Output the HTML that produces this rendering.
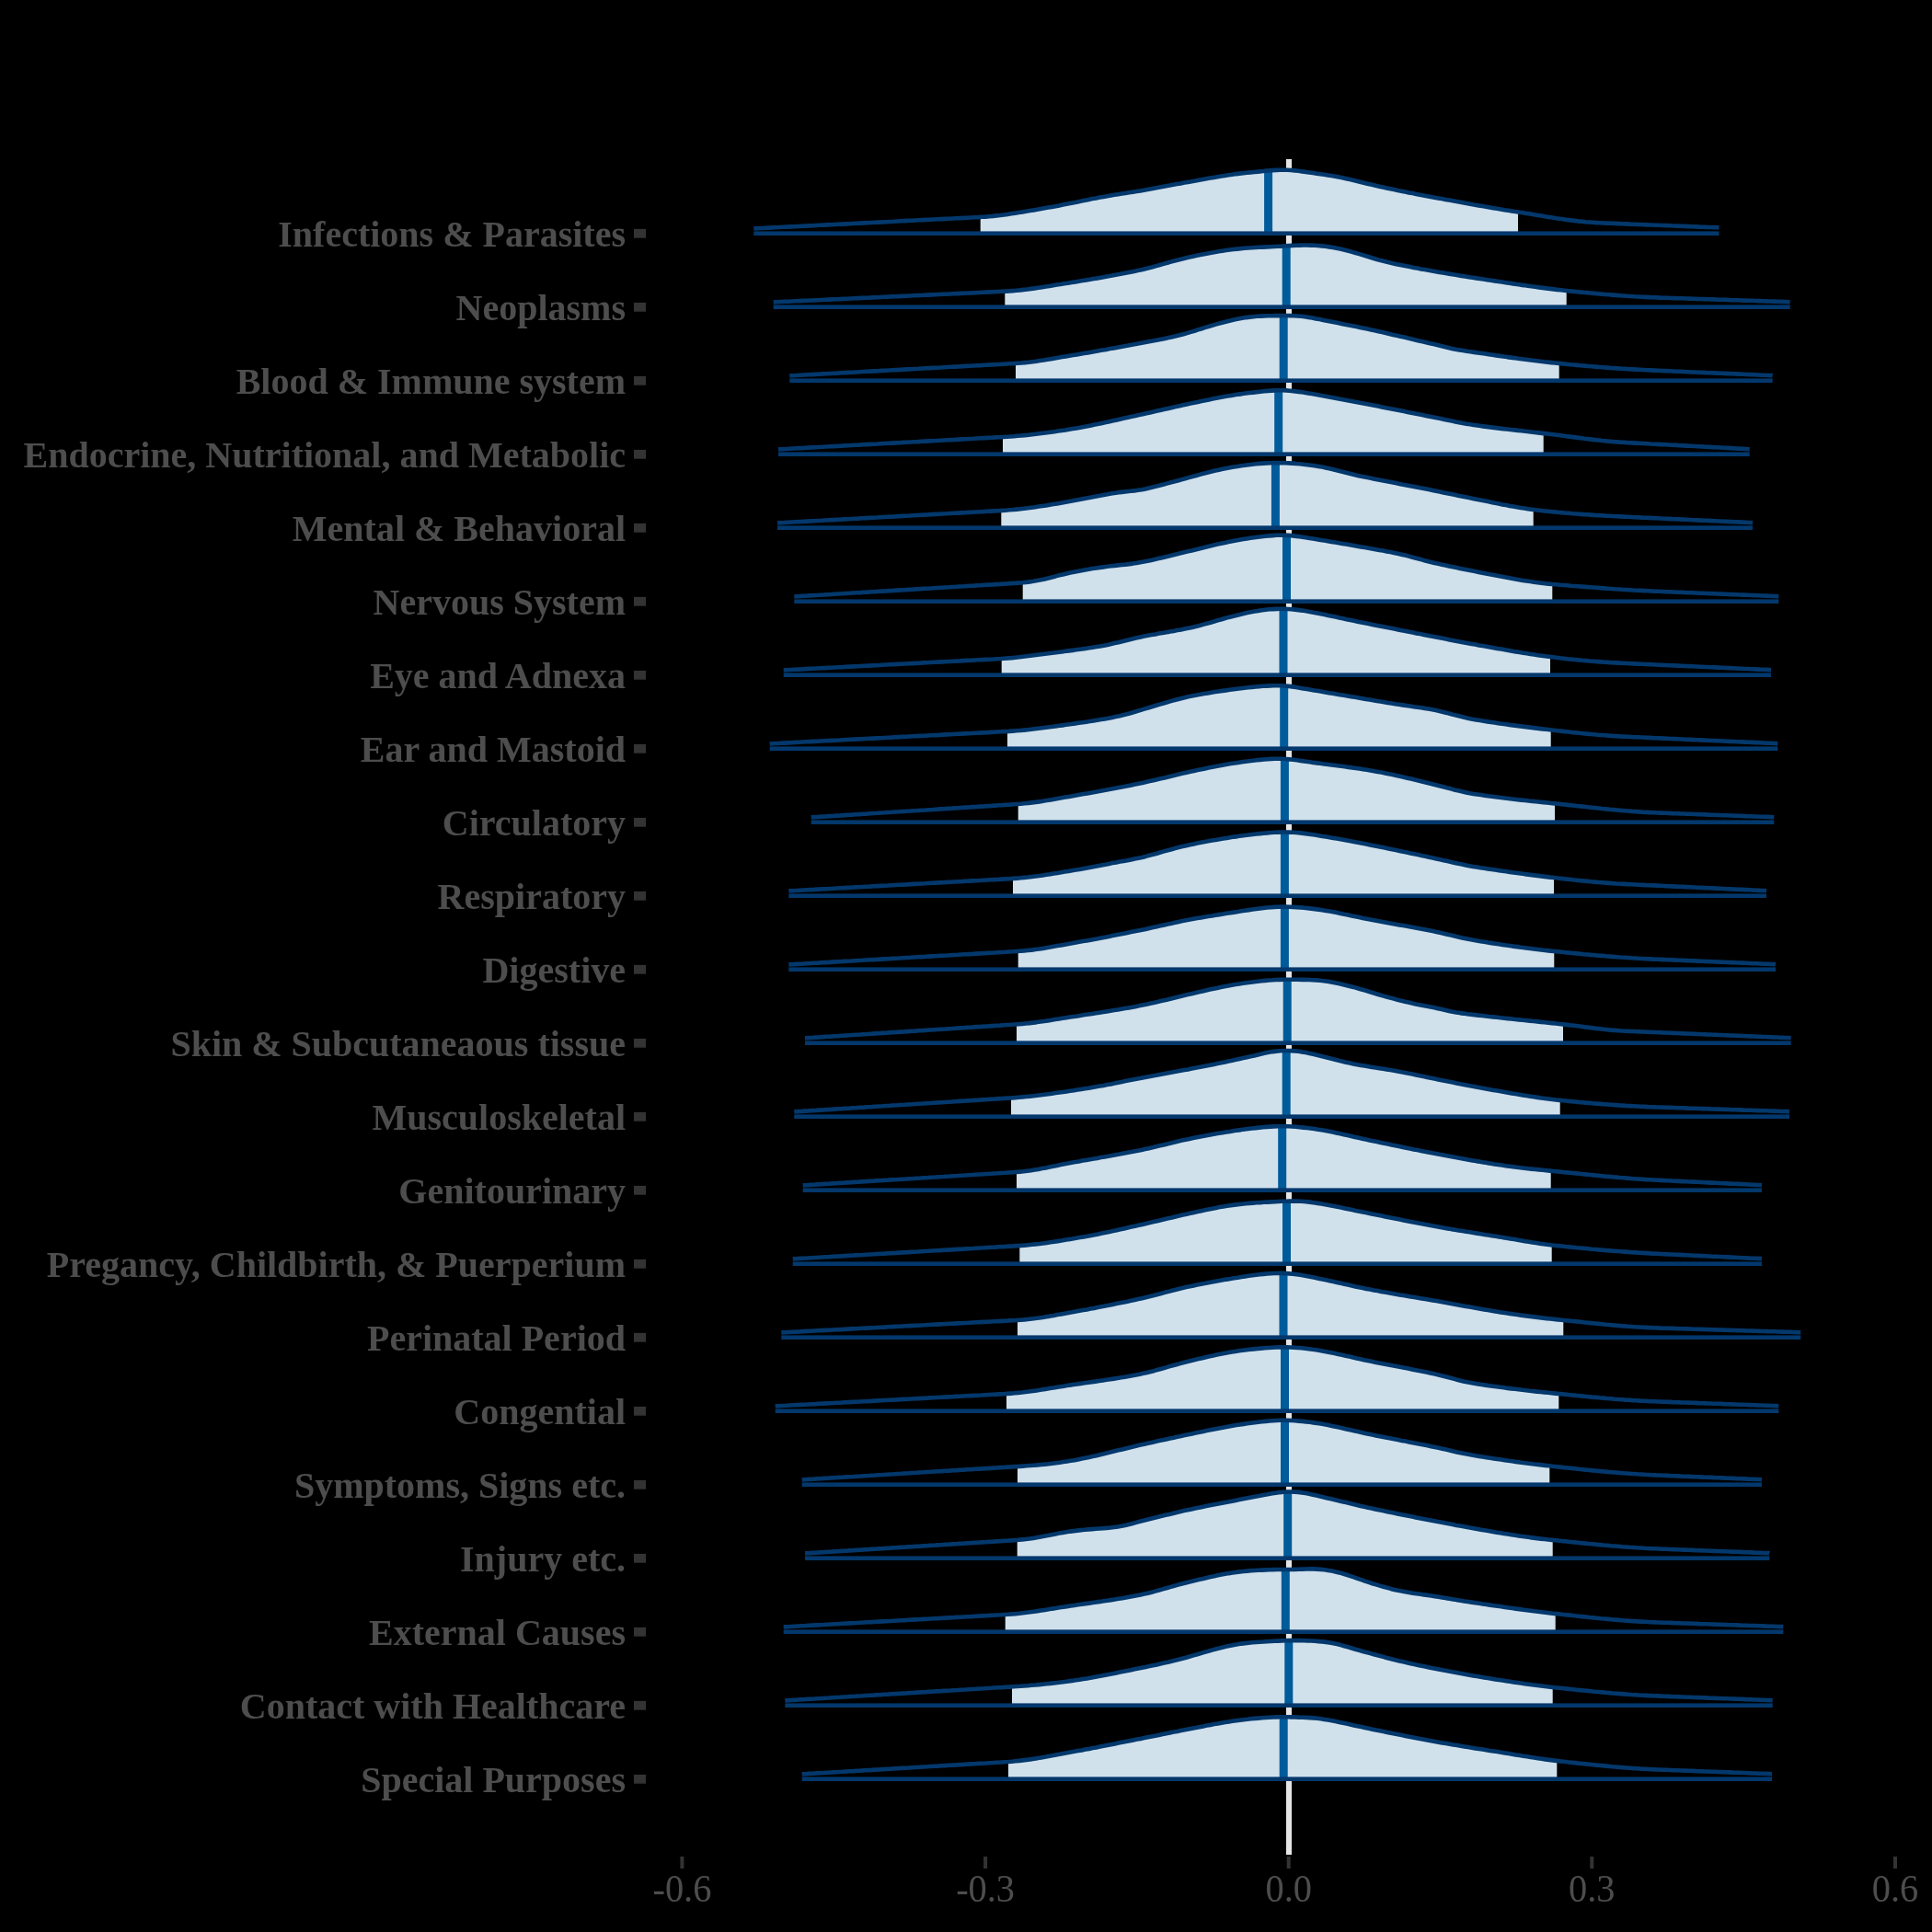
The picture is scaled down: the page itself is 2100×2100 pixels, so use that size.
<!DOCTYPE html>
<html><head><meta charset="utf-8"><style>
svg{will-change:transform}
html,body{margin:0;padding:0;background:#000;width:2100px;height:2100px;overflow:hidden;font-family:"Liberation Serif",serif}
</style></head><body>
<svg width="2100" height="2100" viewBox="0 0 2100 2100" style="position:absolute;left:0;top:0">
<rect x="1398" y="173" width="6" height="1843" fill="#e5e5e5"/>
<defs><path id="f0" d="M819.3,248.4l4,-.2l4,-.2l4,-.2l4,-.2l4,-.2l4,-.2l4,-.2l4,-.2l4,-.2l4,-.2l4,-.2l4,-.2l4,-.2l4,-.2l4,-.2l4,-.2l4,-.2l4,-.2l4,-.2l4,-.2l4,-.2l4,-.2l4,-.2l4,-.2l4,-.2l4,-.2l4,-.2l4,-.2l4,-.2l4,-.2l4,-.2l4,-.2l4,-.2l4,-.2l4,-.2l4,-.2l4,-.2l4,-.2l4,-.3l4,-.2l4,-.2l4,-.2l4,-.2l4,-.2l4,-.2l4,-.2l4,-.2l4,-.2l4,-.2l4,-.2l4,-.2l4,-.2l4,-.2l4,-.2l4,-.2l4,-.2l4,-.2l4,-.2l4,-.2l4,-.2l4,-.2l4,-.3l4,-.2l4,-.4l4,-.3l4,-.5l4,-.4l4,-.5l4,-.6l4,-.6l4,-.6l4,-.6l4,-.7l4,-.7l4,-.6l4,-.7l4,-.7l4,-.7l4,-.7l4,-.7l4,-.7l4,-.7l4,-.8l4,-.8l4,-.8l4,-.8l4,-.8l4,-.8l4,-.8l4,-.9l4,-.8l4,-.8l4,-.7l4,-.8l4,-.7l4,-.7l4,-.7l4,-.7l4,-.6l4,-.6l4,-.6l4,-.7l4,-.6l4,-.6l4,-.7l4,-.7l4,-.7l4,-.7l4,-.8l4,-.7l4,-.7l4,-.8l4,-.7l4,-.8l4,-.7l4,-.7l4,-.8l4,-.7l4,-.7l4,-.7l4,-.8l4,-.7l4,-.7l4,-.7l4,-.7l4,-.7l4,-.7l4,-.6l4,-.6l4,-.6l4,-.6l4,-.5l4,-.4l4,-.4l4,-.4l4,-.4l4,-.4l4,-.4l4,-.4l4,-.4l4,-.3l4,-.2l4,-.2l4,0l4,.1l4,.2l4,.4l4,.4l4,.6l4,.5l4,.6l4,.6l4,.6l4,.5l4,.6l4,.6l4,.6l4,.7l4,.8l4,.8l4,.9l4,.9l4,.9l4,.9l4,1l4,1l4,1l4,.9l4,1l4,.9l4,.9l4,.9l4,.8l4,.8l4,.9l4,.8l4,.8l4,.8l4,.7l4,.8l4,.8l4,.7l4,.8l4,.7l4,.8l4,.7l4,.7l4,.8l4,.7l4,.7l4,.8l4,.7l4,.7l4,.7l4,.8l4,.7l4,.7l4,.7l4,.7l4,.7l4,.7l4,.6l4,.7l4,.7l4,.6l4,.6l4,.7l4,.6l4,.6l4,.7l4,.6l4,.7l4,.6l4,.7l4,.7l4,.6l4,.6l4,.7l4,.6l4,.5l4,.6l4,.5l4,.5l4,.5l4,.4l4,.4l4,.3l4,.3l4,.3l4,.2l4,.2l4,.1l4,.2l4,.1l4,.2l4,.2l4,.1l4,.2l4,.1l4,.2l4,.1l4,.2l4,.2l4,.1l4,.2l4,.1l4,.2l4,.1l4,.2l4,.2l4,.1l4,.2l4,.1l4,.2l4,.2l4,.1l4,.2l4,.1l4,.2l4,.1l4,.2l4,.1l1.2,.1 L1868.5,253.7 L819.3,253.7 Z"/><clipPath id="c0"><rect x="1065.7" y="53.7" width="584.3" height="200"/></clipPath><clipPath id="m0"><use href="#f0"/></clipPath></defs>
<use href="#f0" fill="#d1e1ec" clip-path="url(#c0)"/>
<rect x="1374.1" y="53.7" width="9" height="200" fill="#005b9a" clip-path="url(#m0)"/>
<path d="M819.3,248.4l4,-.2l4,-.2l4,-.2l4,-.2l4,-.2l4,-.2l4,-.2l4,-.2l4,-.2l4,-.2l4,-.2l4,-.2l4,-.2l4,-.2l4,-.2l4,-.2l4,-.2l4,-.2l4,-.2l4,-.2l4,-.2l4,-.2l4,-.2l4,-.2l4,-.2l4,-.2l4,-.2l4,-.2l4,-.2l4,-.2l4,-.2l4,-.2l4,-.2l4,-.2l4,-.2l4,-.2l4,-.2l4,-.2l4,-.3l4,-.2l4,-.2l4,-.2l4,-.2l4,-.2l4,-.2l4,-.2l4,-.2l4,-.2l4,-.2l4,-.2l4,-.2l4,-.2l4,-.2l4,-.2l4,-.2l4,-.2l4,-.2l4,-.2l4,-.2l4,-.2l4,-.2l4,-.3l4,-.2l4,-.4l4,-.3l4,-.5l4,-.4l4,-.5l4,-.6l4,-.6l4,-.6l4,-.6l4,-.7l4,-.7l4,-.6l4,-.7l4,-.7l4,-.7l4,-.7l4,-.7l4,-.7l4,-.7l4,-.8l4,-.8l4,-.8l4,-.8l4,-.8l4,-.8l4,-.8l4,-.9l4,-.8l4,-.8l4,-.7l4,-.8l4,-.7l4,-.7l4,-.7l4,-.7l4,-.6l4,-.6l4,-.6l4,-.7l4,-.6l4,-.6l4,-.7l4,-.7l4,-.7l4,-.7l4,-.8l4,-.7l4,-.7l4,-.8l4,-.7l4,-.8l4,-.7l4,-.7l4,-.8l4,-.7l4,-.7l4,-.7l4,-.8l4,-.7l4,-.7l4,-.7l4,-.7l4,-.7l4,-.7l4,-.6l4,-.6l4,-.6l4,-.6l4,-.5l4,-.4l4,-.4l4,-.4l4,-.4l4,-.4l4,-.4l4,-.4l4,-.4l4,-.3l4,-.2l4,-.2l4,0l4,.1l4,.2l4,.4l4,.4l4,.6l4,.5l4,.6l4,.6l4,.6l4,.5l4,.6l4,.6l4,.6l4,.7l4,.8l4,.8l4,.9l4,.9l4,.9l4,.9l4,1l4,1l4,1l4,.9l4,1l4,.9l4,.9l4,.9l4,.8l4,.8l4,.9l4,.8l4,.8l4,.8l4,.7l4,.8l4,.8l4,.7l4,.8l4,.7l4,.8l4,.7l4,.7l4,.8l4,.7l4,.7l4,.8l4,.7l4,.7l4,.7l4,.8l4,.7l4,.7l4,.7l4,.7l4,.7l4,.7l4,.6l4,.7l4,.7l4,.6l4,.6l4,.7l4,.6l4,.6l4,.7l4,.6l4,.7l4,.6l4,.7l4,.7l4,.6l4,.6l4,.7l4,.6l4,.5l4,.6l4,.5l4,.5l4,.5l4,.4l4,.4l4,.3l4,.3l4,.3l4,.2l4,.2l4,.1l4,.2l4,.1l4,.2l4,.2l4,.1l4,.2l4,.1l4,.2l4,.1l4,.2l4,.2l4,.1l4,.2l4,.1l4,.2l4,.1l4,.2l4,.2l4,.1l4,.2l4,.1l4,.2l4,.2l4,.1l4,.2l4,.1l4,.2l4,.1l4,.2l4,.1l1.2,.1" fill="none" stroke="#03386c" stroke-width="4.6" stroke-linejoin="round" stroke-linecap="butt"/>
<rect x="819.3" y="251.4" width="1049.2" height="4.6" fill="#03386c"/>
<rect x="689" y="248.9" width="13" height="9.8" fill="#333333"/>
<text x="680" y="267.5" text-anchor="end" font-family="Liberation Serif" font-weight="bold" font-size="40" fill="#4d4d4d">Infections &amp; Parasites</text>
<defs><path id="f1" d="M840.7,328.4l4,-.2l4,-.2l4,-.2l4,-.1l4,-.2l4,-.2l4,-.2l4,-.2l4,-.2l4,-.2l4,-.1l4,-.2l4,-.2l4,-.2l4,-.2l4,-.2l4,-.2l4,-.1l4,-.2l4,-.2l4,-.2l4,-.2l4,-.2l4,-.2l4,-.2l4,-.1l4,-.2l4,-.2l4,-.2l4,-.2l4,-.2l4,-.2l4,-.1l4,-.2l4,-.2l4,-.2l4,-.2l4,-.2l4,-.2l4,-.1l4,-.2l4,-.2l4,-.2l4,-.2l4,-.2l4,-.2l4,-.1l4,-.2l4,-.2l4,-.2l4,-.2l4,-.2l4,-.2l4,-.1l4,-.2l4,-.2l4,-.2l4,-.2l4,-.2l4,-.2l4,-.2l4,-.2l4,-.2l4,-.2l4,-.3l4,-.3l4,-.4l4,-.5l4,-.4l4,-.6l4,-.5l4,-.6l4,-.6l4,-.6l4,-.6l4,-.7l4,-.7l4,-.6l4,-.7l4,-.6l4,-.7l4,-.6l4,-.7l4,-.6l4,-.7l4,-.6l4,-.7l4,-.7l4,-.7l4,-.7l4,-.7l4,-.7l4,-.8l4,-.7l4,-.8l4,-.8l4,-.8l4,-.8l4,-.8l4,-.9l4,-1l4,-1l4,-1l4,-1.1l4,-1.1l4,-1.1l4,-1.1l4,-1.2l4,-1.1l4,-1l4,-1l4,-1l4,-.9l4,-.9l4,-.9l4,-.8l4,-.8l4,-.8l4,-.7l4,-.7l4,-.7l4,-.6l4,-.6l4,-.6l4,-.5l4,-.4l4,-.4l4,-.4l4,-.3l4,-.2l4,-.3l4,-.2l4,-.2l4,-.2l4,-.2l4,-.2l4,-.2l4,-.2l4,-.3l4,-.2l4,-.2l4,-.2l4,-.1l4,-.1l4,0l4,.1l4,.2l4,.2l4,.4l4,.4l4,.6l4,.6l4,.8l4,.8l4,1l4,1l4,1l4,1.1l4,1.2l4,1.2l4,1.2l4,1.2l4,1.3l4,1.2l4,1.1l4,1l4,1l4,.9l4,.9l4,.8l4,.8l4,.8l4,.8l4,.8l4,.7l4,.8l4,.7l4,.7l4,.7l4,.7l4,.7l4,.7l4,.7l4,.6l4,.7l4,.6l4,.7l4,.6l4,.7l4,.6l4,.6l4,.6l4,.6l4,.6l4,.6l4,.6l4,.6l4,.6l4,.6l4,.6l4,.6l4,.6l4,.6l4,.5l4,.6l4,.6l4,.5l4,.6l4,.5l4,.5l4,.5l4,.5l4,.5l4,.4l4,.5l4,.4l4,.4l4,.4l4,.4l4,.4l4,.3l4,.4l4,.4l4,.4l4,.3l4,.4l4,.3l4,.3l4,.3l4,.3l4,.3l4,.3l4,.2l4,.3l4,.2l4,.2l4,.2l4,.2l4,.2l4,.1l4,.2l4,.1l4,.1l4,.2l4,.1l4,.1l4,.1l4,.2l4,.1l4,.1l4,.2l4,.1l4,.1l4,.2l4,.1l4,.1l4,.2l4,.1l4,.1l4,.2l4,.1l4,.1l4,.2l4,.1l4,.1l4,.1l4,.2l4,.1l4,.1l4,.2l4,.1l4,.1l4,.2l4,.1l4,.1l4,.2l1,0 L1945.7,333.7 L840.7,333.7 Z"/><clipPath id="c1"><rect x="1092.3" y="133.7" width="610.4" height="200"/></clipPath><clipPath id="m1"><use href="#f1"/></clipPath></defs>
<use href="#f1" fill="#d1e1ec" clip-path="url(#c1)"/>
<rect x="1393.7" y="133.7" width="9" height="200" fill="#005b9a" clip-path="url(#m1)"/>
<path d="M840.7,328.4l4,-.2l4,-.2l4,-.2l4,-.1l4,-.2l4,-.2l4,-.2l4,-.2l4,-.2l4,-.2l4,-.1l4,-.2l4,-.2l4,-.2l4,-.2l4,-.2l4,-.2l4,-.1l4,-.2l4,-.2l4,-.2l4,-.2l4,-.2l4,-.2l4,-.2l4,-.1l4,-.2l4,-.2l4,-.2l4,-.2l4,-.2l4,-.2l4,-.1l4,-.2l4,-.2l4,-.2l4,-.2l4,-.2l4,-.2l4,-.1l4,-.2l4,-.2l4,-.2l4,-.2l4,-.2l4,-.2l4,-.1l4,-.2l4,-.2l4,-.2l4,-.2l4,-.2l4,-.2l4,-.1l4,-.2l4,-.2l4,-.2l4,-.2l4,-.2l4,-.2l4,-.2l4,-.2l4,-.2l4,-.2l4,-.3l4,-.3l4,-.4l4,-.5l4,-.4l4,-.6l4,-.5l4,-.6l4,-.6l4,-.6l4,-.6l4,-.7l4,-.7l4,-.6l4,-.7l4,-.6l4,-.7l4,-.6l4,-.7l4,-.6l4,-.7l4,-.6l4,-.7l4,-.7l4,-.7l4,-.7l4,-.7l4,-.7l4,-.8l4,-.7l4,-.8l4,-.8l4,-.8l4,-.8l4,-.8l4,-.9l4,-1l4,-1l4,-1l4,-1.1l4,-1.1l4,-1.1l4,-1.1l4,-1.2l4,-1.1l4,-1l4,-1l4,-1l4,-.9l4,-.9l4,-.9l4,-.8l4,-.8l4,-.8l4,-.7l4,-.7l4,-.7l4,-.6l4,-.6l4,-.6l4,-.5l4,-.4l4,-.4l4,-.4l4,-.3l4,-.2l4,-.3l4,-.2l4,-.2l4,-.2l4,-.2l4,-.2l4,-.2l4,-.2l4,-.3l4,-.2l4,-.2l4,-.2l4,-.1l4,-.1l4,0l4,.1l4,.2l4,.2l4,.4l4,.4l4,.6l4,.6l4,.8l4,.8l4,1l4,1l4,1l4,1.1l4,1.2l4,1.2l4,1.2l4,1.2l4,1.3l4,1.2l4,1.1l4,1l4,1l4,.9l4,.9l4,.8l4,.8l4,.8l4,.8l4,.8l4,.7l4,.8l4,.7l4,.7l4,.7l4,.7l4,.7l4,.7l4,.7l4,.6l4,.7l4,.6l4,.7l4,.6l4,.7l4,.6l4,.6l4,.6l4,.6l4,.6l4,.6l4,.6l4,.6l4,.6l4,.6l4,.6l4,.6l4,.6l4,.6l4,.5l4,.6l4,.6l4,.5l4,.6l4,.5l4,.5l4,.5l4,.5l4,.5l4,.4l4,.5l4,.4l4,.4l4,.4l4,.4l4,.4l4,.3l4,.4l4,.4l4,.4l4,.3l4,.4l4,.3l4,.3l4,.3l4,.3l4,.3l4,.3l4,.2l4,.3l4,.2l4,.2l4,.2l4,.2l4,.2l4,.1l4,.2l4,.1l4,.1l4,.2l4,.1l4,.1l4,.1l4,.2l4,.1l4,.1l4,.2l4,.1l4,.1l4,.2l4,.1l4,.1l4,.2l4,.1l4,.1l4,.2l4,.1l4,.1l4,.2l4,.1l4,.1l4,.1l4,.2l4,.1l4,.1l4,.2l4,.1l4,.1l4,.2l4,.1l4,.1l4,.2l1,0" fill="none" stroke="#03386c" stroke-width="4.6" stroke-linejoin="round" stroke-linecap="butt"/>
<rect x="840.7" y="331.4" width="1105.0" height="4.6" fill="#03386c"/>
<rect x="689" y="328.9" width="13" height="9.8" fill="#333333"/>
<text x="680" y="347.5" text-anchor="end" font-family="Liberation Serif" font-weight="bold" font-size="40" fill="#4d4d4d">Neoplasms</text>
<defs><path id="f2" d="M858.3,408.4l4,-.2l4,-.2l4,-.3l4,-.2l4,-.2l4,-.2l4,-.2l4,-.2l4,-.3l4,-.2l4,-.2l4,-.2l4,-.2l4,-.3l4,-.2l4,-.2l4,-.2l4,-.2l4,-.2l4,-.3l4,-.2l4,-.2l4,-.2l4,-.2l4,-.3l4,-.2l4,-.2l4,-.2l4,-.2l4,-.2l4,-.3l4,-.2l4,-.2l4,-.2l4,-.2l4,-.3l4,-.2l4,-.2l4,-.2l4,-.2l4,-.2l4,-.3l4,-.2l4,-.2l4,-.2l4,-.2l4,-.3l4,-.2l4,-.2l4,-.2l4,-.2l4,-.2l4,-.3l4,-.2l4,-.2l4,-.2l4,-.2l4,-.3l4,-.2l4,-.2l4,-.2l4,-.3l4,-.3l4,-.4l4,-.4l4,-.5l4,-.5l4,-.6l4,-.6l4,-.7l4,-.6l4,-.7l4,-.7l4,-.7l4,-.7l4,-.7l4,-.6l4,-.7l4,-.7l4,-.6l4,-.7l4,-.7l4,-.7l4,-.7l4,-.7l4,-.7l4,-.8l4,-.7l4,-.7l4,-.8l4,-.7l4,-.7l4,-.8l4,-.7l4,-.8l4,-.7l4,-.8l4,-.7l4,-.7l4,-.8l4,-.8l4,-.8l4,-.8l4,-.9l4,-.9l4,-1l4,-1.1l4,-1.1l4,-1.2l4,-1.2l4,-1.3l4,-1.2l4,-1.3l4,-1.2l4,-1.2l4,-1.1l4,-1.1l4,-1.1l4,-1l4,-.9l4,-1l4,-.8l4,-.7l4,-.7l4,-.5l4,-.4l4,-.4l4,-.2l4,-.2l4,-.1l4,-.1l4,-.1l4,0l4,-.1l4,0l4,.1l4,.1l4,.3l4,.3l4,.5l4,.6l4,.7l4,.8l4,.7l4,.8l4,.8l4,.8l4,.8l4,.8l4,.8l4,.8l4,.8l4,.7l4,.9l4,.8l4,.8l4,.9l4,.8l4,.9l4,.9l4,.9l4,.9l4,.9l4,1l4,.9l4,.9l4,.9l4,1l4,.9l4,.9l4,1l4,.9l4,.9l4,1l4,.9l4,1l4,1l4,1l4,.9l4,.9l4,.8l4,.7l4,.6l4,.7l4,.6l4,.6l4,.6l4,.5l4,.6l4,.6l4,.6l4,.6l4,.5l4,.6l4,.6l4,.5l4,.5l4,.6l4,.5l4,.5l4,.5l4,.5l4,.5l4,.5l4,.5l4,.4l4,.5l4,.4l4,.4l4,.5l4,.4l4,.4l4,.3l4,.4l4,.4l4,.3l4,.4l4,.3l4,.3l4,.4l4,.3l4,.3l4,.3l4,.2l4,.3l4,.3l4,.2l4,.3l4,.2l4,.2l4,.2l4,.2l4,.2l4,.2l4,.2l4,.2l4,.2l4,.1l4,.2l4,.2l4,.2l4,.1l4,.2l4,.2l4,.2l4,.1l4,.2l4,.2l4,.2l4,.1l4,.2l4,.2l4,.2l4,.1l4,.2l4,.2l4,.1l4,.2l4,.2l4,.2l4,.1l4,.2l4,.2l4,.2l4,.1l4,.2l4,.1l.4,.1 L1926.7,413.7 L858.3,413.7 Z"/><clipPath id="c2"><rect x="1104.0" y="213.7" width="590.7" height="200"/></clipPath><clipPath id="m2"><use href="#f2"/></clipPath></defs>
<use href="#f2" fill="#d1e1ec" clip-path="url(#c2)"/>
<rect x="1390.7" y="213.7" width="9" height="200" fill="#005b9a" clip-path="url(#m2)"/>
<path d="M858.3,408.4l4,-.2l4,-.2l4,-.3l4,-.2l4,-.2l4,-.2l4,-.2l4,-.2l4,-.3l4,-.2l4,-.2l4,-.2l4,-.2l4,-.3l4,-.2l4,-.2l4,-.2l4,-.2l4,-.2l4,-.3l4,-.2l4,-.2l4,-.2l4,-.2l4,-.3l4,-.2l4,-.2l4,-.2l4,-.2l4,-.2l4,-.3l4,-.2l4,-.2l4,-.2l4,-.2l4,-.3l4,-.2l4,-.2l4,-.2l4,-.2l4,-.2l4,-.3l4,-.2l4,-.2l4,-.2l4,-.2l4,-.3l4,-.2l4,-.2l4,-.2l4,-.2l4,-.2l4,-.3l4,-.2l4,-.2l4,-.2l4,-.2l4,-.3l4,-.2l4,-.2l4,-.2l4,-.3l4,-.3l4,-.4l4,-.4l4,-.5l4,-.5l4,-.6l4,-.6l4,-.7l4,-.6l4,-.7l4,-.7l4,-.7l4,-.7l4,-.7l4,-.6l4,-.7l4,-.7l4,-.6l4,-.7l4,-.7l4,-.7l4,-.7l4,-.7l4,-.7l4,-.8l4,-.7l4,-.7l4,-.8l4,-.7l4,-.7l4,-.8l4,-.7l4,-.8l4,-.7l4,-.8l4,-.7l4,-.7l4,-.8l4,-.8l4,-.8l4,-.8l4,-.9l4,-.9l4,-1l4,-1.1l4,-1.1l4,-1.2l4,-1.2l4,-1.3l4,-1.2l4,-1.3l4,-1.2l4,-1.2l4,-1.1l4,-1.1l4,-1.1l4,-1l4,-.9l4,-1l4,-.8l4,-.7l4,-.7l4,-.5l4,-.4l4,-.4l4,-.2l4,-.2l4,-.1l4,-.1l4,-.1l4,0l4,-.1l4,0l4,.1l4,.1l4,.3l4,.3l4,.5l4,.6l4,.7l4,.8l4,.7l4,.8l4,.8l4,.8l4,.8l4,.8l4,.8l4,.8l4,.8l4,.7l4,.9l4,.8l4,.8l4,.9l4,.8l4,.9l4,.9l4,.9l4,.9l4,.9l4,1l4,.9l4,.9l4,.9l4,1l4,.9l4,.9l4,1l4,.9l4,.9l4,1l4,.9l4,1l4,1l4,1l4,.9l4,.9l4,.8l4,.7l4,.6l4,.7l4,.6l4,.6l4,.6l4,.5l4,.6l4,.6l4,.6l4,.6l4,.5l4,.6l4,.6l4,.5l4,.5l4,.6l4,.5l4,.5l4,.5l4,.5l4,.5l4,.5l4,.5l4,.4l4,.5l4,.4l4,.4l4,.5l4,.4l4,.4l4,.3l4,.4l4,.4l4,.3l4,.4l4,.3l4,.3l4,.4l4,.3l4,.3l4,.3l4,.2l4,.3l4,.3l4,.2l4,.3l4,.2l4,.2l4,.2l4,.2l4,.2l4,.2l4,.2l4,.2l4,.2l4,.1l4,.2l4,.2l4,.2l4,.1l4,.2l4,.2l4,.2l4,.1l4,.2l4,.2l4,.2l4,.1l4,.2l4,.2l4,.2l4,.1l4,.2l4,.2l4,.1l4,.2l4,.2l4,.2l4,.1l4,.2l4,.2l4,.2l4,.1l4,.2l4,.1l.4,.1" fill="none" stroke="#03386c" stroke-width="4.6" stroke-linejoin="round" stroke-linecap="butt"/>
<rect x="858.3" y="411.4" width="1068.4" height="4.6" fill="#03386c"/>
<rect x="689" y="408.9" width="13" height="9.8" fill="#333333"/>
<text x="680" y="427.5" text-anchor="end" font-family="Liberation Serif" font-weight="bold" font-size="40" fill="#4d4d4d">Blood &amp; Immune system</text>
<defs><path id="f3" d="M846.0,488.4l4,-.2l4,-.2l4,-.3l4,-.2l4,-.2l4,-.2l4,-.2l4,-.3l4,-.2l4,-.2l4,-.2l4,-.2l4,-.3l4,-.2l4,-.2l4,-.2l4,-.2l4,-.3l4,-.2l4,-.2l4,-.2l4,-.2l4,-.3l4,-.2l4,-.2l4,-.2l4,-.2l4,-.3l4,-.2l4,-.2l4,-.2l4,-.2l4,-.2l4,-.3l4,-.2l4,-.2l4,-.2l4,-.2l4,-.3l4,-.2l4,-.2l4,-.2l4,-.2l4,-.3l4,-.2l4,-.2l4,-.2l4,-.2l4,-.3l4,-.2l4,-.2l4,-.2l4,-.2l4,-.3l4,-.2l4,-.2l4,-.2l4,-.2l4,-.3l4,-.2l4,-.2l4,-.3l4,-.2l4,-.3l4,-.4l4,-.3l4,-.4l4,-.4l4,-.5l4,-.4l4,-.5l4,-.5l4,-.5l4,-.6l4,-.5l4,-.6l4,-.6l4,-.6l4,-.7l4,-.6l4,-.7l4,-.7l4,-.7l4,-.8l4,-.8l4,-.8l4,-.8l4,-.9l4,-.8l4,-.9l4,-.9l4,-.9l4,-.9l4,-.9l4,-.9l4,-.9l4,-.9l4,-.9l4,-.8l4,-.9l4,-.9l4,-.9l4,-.9l4,-.9l4,-.9l4,-.9l4,-.9l4,-.9l4,-.9l4,-.9l4,-.9l4,-.8l4,-.9l4,-.8l4,-.9l4,-.8l4,-.8l4,-.8l4,-.8l4,-.8l4,-.7l4,-.7l4,-.7l4,-.7l4,-.6l4,-.5l4,-.6l4,-.5l4,-.4l4,-.5l4,-.4l4,-.4l4,-.4l4,-.3l4,-.2l4,-.2l4,0l4,.2l4,.3l4,.4l4,.5l4,.5l4,.6l4,.7l4,.7l4,.7l4,.7l4,.7l4,.7l4,.8l4,.7l4,.8l4,.8l4,.7l4,.8l4,.7l4,.8l4,.8l4,.7l4,.8l4,.8l4,.7l4,.8l4,.8l4,.8l4,.7l4,.8l4,.8l4,.8l4,.8l4,.8l4,.8l4,.8l4,.8l4,.8l4,.8l4,.8l4,.8l4,.8l4,.8l4,.9l4,.8l4,.8l4,.8l4,.8l4,.8l4,.7l4,.6l4,.6l4,.6l4,.6l4,.5l4,.5l4,.5l4,.5l4,.5l4,.5l4,.4l4,.5l4,.4l4,.5l4,.4l4,.5l4,.4l4,.5l4,.4l4,.5l4,.5l4,.4l4,.5l4,.5l4,.5l4,.5l4,.6l4,.5l4,.5l4,.5l4,.5l4,.6l4,.4l4,.5l4,.5l4,.4l4,.5l4,.4l4,.3l4,.4l4,.3l4,.3l4,.2l4,.3l4,.2l4,.2l4,.2l4,.2l4,.2l4,.3l4,.2l4,.2l4,.2l4,.2l4,.2l4,.2l4,.2l4,.3l4,.2l4,.2l4,.2l4,.2l4,.2l4,.2l4,.3l4,.2l4,.2l4,.2l4,.2l4,.2l4,.2l4,.2l4,.3l4,.2l4,.2l4,.2l3.7,.2 L1901.7,493.7 L846.0,493.7 Z"/><clipPath id="c3"><rect x="1090.0" y="293.7" width="587.7" height="200"/></clipPath><clipPath id="m3"><use href="#f3"/></clipPath></defs>
<use href="#f3" fill="#d1e1ec" clip-path="url(#c3)"/>
<rect x="1385.2" y="293.7" width="9" height="200" fill="#005b9a" clip-path="url(#m3)"/>
<path d="M846.0,488.4l4,-.2l4,-.2l4,-.3l4,-.2l4,-.2l4,-.2l4,-.2l4,-.3l4,-.2l4,-.2l4,-.2l4,-.2l4,-.3l4,-.2l4,-.2l4,-.2l4,-.2l4,-.3l4,-.2l4,-.2l4,-.2l4,-.2l4,-.3l4,-.2l4,-.2l4,-.2l4,-.2l4,-.3l4,-.2l4,-.2l4,-.2l4,-.2l4,-.2l4,-.3l4,-.2l4,-.2l4,-.2l4,-.2l4,-.3l4,-.2l4,-.2l4,-.2l4,-.2l4,-.3l4,-.2l4,-.2l4,-.2l4,-.2l4,-.3l4,-.2l4,-.2l4,-.2l4,-.2l4,-.3l4,-.2l4,-.2l4,-.2l4,-.2l4,-.3l4,-.2l4,-.2l4,-.3l4,-.2l4,-.3l4,-.4l4,-.3l4,-.4l4,-.4l4,-.5l4,-.4l4,-.5l4,-.5l4,-.5l4,-.6l4,-.5l4,-.6l4,-.6l4,-.6l4,-.7l4,-.6l4,-.7l4,-.7l4,-.7l4,-.8l4,-.8l4,-.8l4,-.8l4,-.9l4,-.8l4,-.9l4,-.9l4,-.9l4,-.9l4,-.9l4,-.9l4,-.9l4,-.9l4,-.9l4,-.8l4,-.9l4,-.9l4,-.9l4,-.9l4,-.9l4,-.9l4,-.9l4,-.9l4,-.9l4,-.9l4,-.9l4,-.9l4,-.8l4,-.9l4,-.8l4,-.9l4,-.8l4,-.8l4,-.8l4,-.8l4,-.8l4,-.7l4,-.7l4,-.7l4,-.7l4,-.6l4,-.5l4,-.6l4,-.5l4,-.4l4,-.5l4,-.4l4,-.4l4,-.4l4,-.3l4,-.2l4,-.2l4,0l4,.2l4,.3l4,.4l4,.5l4,.5l4,.6l4,.7l4,.7l4,.7l4,.7l4,.7l4,.7l4,.8l4,.7l4,.8l4,.8l4,.7l4,.8l4,.7l4,.8l4,.8l4,.7l4,.8l4,.8l4,.7l4,.8l4,.8l4,.8l4,.7l4,.8l4,.8l4,.8l4,.8l4,.8l4,.8l4,.8l4,.8l4,.8l4,.8l4,.8l4,.8l4,.8l4,.8l4,.9l4,.8l4,.8l4,.8l4,.8l4,.8l4,.7l4,.6l4,.6l4,.6l4,.6l4,.5l4,.5l4,.5l4,.5l4,.5l4,.5l4,.4l4,.5l4,.4l4,.5l4,.4l4,.5l4,.4l4,.5l4,.4l4,.5l4,.5l4,.4l4,.5l4,.5l4,.5l4,.5l4,.6l4,.5l4,.5l4,.5l4,.5l4,.6l4,.4l4,.5l4,.5l4,.4l4,.5l4,.4l4,.3l4,.4l4,.3l4,.3l4,.2l4,.3l4,.2l4,.2l4,.2l4,.2l4,.2l4,.3l4,.2l4,.2l4,.2l4,.2l4,.2l4,.2l4,.2l4,.3l4,.2l4,.2l4,.2l4,.2l4,.2l4,.2l4,.3l4,.2l4,.2l4,.2l4,.2l4,.2l4,.2l4,.2l4,.3l4,.2l4,.2l4,.2l3.7,.2" fill="none" stroke="#03386c" stroke-width="4.6" stroke-linejoin="round" stroke-linecap="butt"/>
<rect x="846.0" y="491.4" width="1055.7" height="4.6" fill="#03386c"/>
<rect x="689" y="488.9" width="13" height="9.8" fill="#333333"/>
<text x="680" y="507.5" text-anchor="end" font-family="Liberation Serif" font-weight="bold" font-size="40" fill="#4d4d4d">Endocrine, Nutritional, and Metabolic</text>
<defs><path id="f4" d="M845.0,568.4l4,-.2l4,-.2l4,-.3l4,-.2l4,-.2l4,-.2l4,-.2l4,-.3l4,-.2l4,-.2l4,-.2l4,-.2l4,-.3l4,-.2l4,-.2l4,-.2l4,-.2l4,-.3l4,-.2l4,-.2l4,-.2l4,-.2l4,-.3l4,-.2l4,-.2l4,-.2l4,-.2l4,-.3l4,-.2l4,-.2l4,-.2l4,-.2l4,-.3l4,-.2l4,-.2l4,-.2l4,-.3l4,-.2l4,-.2l4,-.2l4,-.2l4,-.3l4,-.2l4,-.2l4,-.2l4,-.2l4,-.3l4,-.2l4,-.2l4,-.2l4,-.2l4,-.3l4,-.2l4,-.2l4,-.2l4,-.2l4,-.3l4,-.2l4,-.2l4,-.2l4,-.3l4,-.2l4,-.4l4,-.3l4,-.4l4,-.4l4,-.4l4,-.5l4,-.6l4,-.5l4,-.6l4,-.6l4,-.6l4,-.7l4,-.6l4,-.7l4,-.7l4,-.8l4,-.7l4,-.7l4,-.8l4,-.7l4,-.8l4,-.8l4,-.7l4,-.8l4,-.7l4,-.7l4,-.8l4,-.7l4,-.7l4,-.6l4,-.6l4,-.5l4,-.4l4,-.4l4,-.4l4,-.6l4,-.6l4,-.8l4,-.9l4,-.9l4,-1l4,-1.1l4,-1l4,-1.1l4,-1.1l4,-1l4,-1.1l4,-1.1l4,-1.1l4,-1.1l4,-1.1l4,-1.1l4,-1.1l4,-1l4,-1.1l4,-1l4,-.9l4,-.9l4,-.9l4,-.8l4,-.7l4,-.7l4,-.6l4,-.7l4,-.5l4,-.6l4,-.5l4,-.4l4,-.4l4,-.3l4,-.2l4,-.2l4,-.1l4,0l4,0l4,.1l4,.2l4,.2l4,.4l4,.3l4,.4l4,.5l4,.5l4,.6l4,.6l4,.7l4,.8l4,.9l4,.9l4,1l4,1.1l4,1l4,1l4,1l4,1l4,.9l4,.8l4,.8l4,.8l4,.8l4,.8l4,.8l4,.8l4,.8l4,.7l4,.8l4,.8l4,.8l4,.7l4,.8l4,.8l4,.8l4,.8l4,.7l4,.8l4,.8l4,.8l4,.8l4,.9l4,.8l4,.8l4,.8l4,.9l4,.8l4,.8l4,.8l4,.8l4,.8l4,.8l4,.8l4,.8l4,.8l4,.9l4,.8l4,.8l4,.7l4,.8l4,.7l4,.7l4,.7l4,.6l4,.6l4,.5l4,.5l4,.5l4,.5l4,.4l4,.4l4,.4l4,.4l4,.3l4,.4l4,.3l4,.4l4,.3l4,.3l4,.3l4,.2l4,.3l4,.3l4,.2l4,.2l4,.3l4,.2l4,.2l4,.2l4,.2l4,.2l4,.2l4,.2l4,.2l4,.2l4,.2l4,.1l4,.2l4,.2l4,.2l4,.2l4,.2l4,.2l4,.2l4,.2l4,.1l4,.2l4,.2l4,.2l4,.2l4,.2l4,.2l4,.2l4,.1l4,.2l4,.2l4,.2l4,.2l4,.2l4,.2l4,.2l4,.1l4,.2l4,.2l4,.2l4,.2 L1905.0,573.7 L845.0,573.7 Z"/><clipPath id="c4"><rect x="1088.3" y="373.7" width="578.4" height="200"/></clipPath><clipPath id="m4"><use href="#f4"/></clipPath></defs>
<use href="#f4" fill="#d1e1ec" clip-path="url(#c4)"/>
<rect x="1381.9" y="373.7" width="9" height="200" fill="#005b9a" clip-path="url(#m4)"/>
<path d="M845.0,568.4l4,-.2l4,-.2l4,-.3l4,-.2l4,-.2l4,-.2l4,-.2l4,-.3l4,-.2l4,-.2l4,-.2l4,-.2l4,-.3l4,-.2l4,-.2l4,-.2l4,-.2l4,-.3l4,-.2l4,-.2l4,-.2l4,-.2l4,-.3l4,-.2l4,-.2l4,-.2l4,-.2l4,-.3l4,-.2l4,-.2l4,-.2l4,-.2l4,-.3l4,-.2l4,-.2l4,-.2l4,-.3l4,-.2l4,-.2l4,-.2l4,-.2l4,-.3l4,-.2l4,-.2l4,-.2l4,-.2l4,-.3l4,-.2l4,-.2l4,-.2l4,-.2l4,-.3l4,-.2l4,-.2l4,-.2l4,-.2l4,-.3l4,-.2l4,-.2l4,-.2l4,-.3l4,-.2l4,-.4l4,-.3l4,-.4l4,-.4l4,-.4l4,-.5l4,-.6l4,-.5l4,-.6l4,-.6l4,-.6l4,-.7l4,-.6l4,-.7l4,-.7l4,-.8l4,-.7l4,-.7l4,-.8l4,-.7l4,-.8l4,-.8l4,-.7l4,-.8l4,-.7l4,-.7l4,-.8l4,-.7l4,-.7l4,-.6l4,-.6l4,-.5l4,-.4l4,-.4l4,-.4l4,-.6l4,-.6l4,-.8l4,-.9l4,-.9l4,-1l4,-1.1l4,-1l4,-1.1l4,-1.1l4,-1l4,-1.1l4,-1.1l4,-1.1l4,-1.1l4,-1.1l4,-1.1l4,-1.1l4,-1l4,-1.1l4,-1l4,-.9l4,-.9l4,-.9l4,-.8l4,-.7l4,-.7l4,-.6l4,-.7l4,-.5l4,-.6l4,-.5l4,-.4l4,-.4l4,-.3l4,-.2l4,-.2l4,-.1l4,0l4,0l4,.1l4,.2l4,.2l4,.4l4,.3l4,.4l4,.5l4,.5l4,.6l4,.6l4,.7l4,.8l4,.9l4,.9l4,1l4,1.1l4,1l4,1l4,1l4,1l4,.9l4,.8l4,.8l4,.8l4,.8l4,.8l4,.8l4,.8l4,.8l4,.7l4,.8l4,.8l4,.8l4,.7l4,.8l4,.8l4,.8l4,.8l4,.7l4,.8l4,.8l4,.8l4,.8l4,.9l4,.8l4,.8l4,.8l4,.9l4,.8l4,.8l4,.8l4,.8l4,.8l4,.8l4,.8l4,.8l4,.8l4,.9l4,.8l4,.8l4,.7l4,.8l4,.7l4,.7l4,.7l4,.6l4,.6l4,.5l4,.5l4,.5l4,.5l4,.4l4,.4l4,.4l4,.4l4,.3l4,.4l4,.3l4,.4l4,.3l4,.3l4,.3l4,.2l4,.3l4,.3l4,.2l4,.2l4,.3l4,.2l4,.2l4,.2l4,.2l4,.2l4,.2l4,.2l4,.2l4,.2l4,.2l4,.1l4,.2l4,.2l4,.2l4,.2l4,.2l4,.2l4,.2l4,.2l4,.1l4,.2l4,.2l4,.2l4,.2l4,.2l4,.2l4,.2l4,.1l4,.2l4,.2l4,.2l4,.2l4,.2l4,.2l4,.2l4,.1l4,.2l4,.2l4,.2l4,.2" fill="none" stroke="#03386c" stroke-width="4.6" stroke-linejoin="round" stroke-linecap="butt"/>
<rect x="845.0" y="571.4" width="1060.0" height="4.6" fill="#03386c"/>
<rect x="689" y="568.9" width="13" height="9.8" fill="#333333"/>
<text x="680" y="587.5" text-anchor="end" font-family="Liberation Serif" font-weight="bold" font-size="40" fill="#4d4d4d">Mental &amp; Behavioral</text>
<defs><path id="f5" d="M863.3,648.4l4,-.2l4,-.3l4,-.2l4,-.3l4,-.2l4,-.2l4,-.3l4,-.2l4,-.3l4,-.2l4,-.3l4,-.2l4,-.2l4,-.3l4,-.2l4,-.3l4,-.2l4,-.2l4,-.3l4,-.2l4,-.3l4,-.2l4,-.3l4,-.2l4,-.2l4,-.3l4,-.2l4,-.3l4,-.2l4,-.2l4,-.3l4,-.2l4,-.3l4,-.2l4,-.3l4,-.2l4,-.2l4,-.3l4,-.2l4,-.3l4,-.2l4,-.2l4,-.3l4,-.2l4,-.3l4,-.2l4,-.3l4,-.2l4,-.2l4,-.3l4,-.2l4,-.3l4,-.2l4,-.2l4,-.3l4,-.2l4,-.3l4,-.2l4,-.3l4,-.2l4,-.3l4,-.3l4,-.4l4,-.5l4,-.6l4,-.7l4,-.8l4,-.9l4,-1l4,-1l4,-1l4,-1.1l4,-.9l4,-1l4,-.9l4,-.8l4,-.8l4,-.7l4,-.8l4,-.6l4,-.7l4,-.6l4,-.6l4,-.5l4,-.6l4,-.5l4,-.4l4,-.5l4,-.4l4,-.4l4,-.5l4,-.5l4,-.6l4,-.7l4,-.7l4,-.8l4,-.9l4,-.9l4,-.9l4,-.9l4,-1l4,-1l4,-1l4,-1l4,-.9l4,-1l4,-1l4,-.9l4,-1l4,-1l4,-.9l4,-1l4,-1l4,-.9l4,-1l4,-.9l4,-.8l4,-.9l4,-.8l4,-.8l4,-.7l4,-.7l4,-.6l4,-.6l4,-.5l4,-.5l4,-.5l4,-.5l4,-.4l4,-.3l4,-.3l4,-.1l4,0l4,.2l4,.2l4,.5l4,.5l4,.6l4,.6l4,.7l4,.6l4,.6l4,.7l4,.7l4,.6l4,.7l4,.7l4,.6l4,.7l4,.7l4,.7l4,.7l4,.7l4,.7l4,.7l4,.7l4,.7l4,.7l4,.7l4,.7l4,.8l4,.7l4,.8l4,.9l4,.9l4,.9l4,1l4,1.1l4,1l4,1.1l4,1.1l4,1l4,1l4,1l4,.9l4,.9l4,.8l4,.9l4,.8l4,.8l4,.9l4,.8l4,.8l4,.8l4,.8l4,.8l4,.8l4,.8l4,.8l4,.7l4,.8l4,.7l4,.8l4,.7l4,.8l4,.7l4,.7l4,.7l4,.6l4,.6l4,.6l4,.5l4,.5l4,.5l4,.4l4,.4l4,.3l4,.4l4,.3l4,.3l4,.4l4,.3l4,.3l4,.3l4,.3l4,.3l4,.3l4,.3l4,.3l4,.3l4,.3l4,.3l4,.3l4,.2l4,.3l4,.2l4,.2l4,.3l4,.2l4,.2l4,.2l4,.2l4,.2l4,.2l4,.1l4,.2l4,.2l4,.1l4,.2l4,.2l4,.1l4,.2l4,.2l4,.1l4,.2l4,.2l4,.1l4,.2l4,.1l4,.2l4,.2l4,.1l4,.2l4,.2l4,.1l4,.2l4,.2l4,.1l4,.2l4,.2l4,.1l4,.2l4,.2l4,.1l4,.2l4,.2l4,.1l2,.1 L1933.3,653.7 L863.3,653.7 Z"/><clipPath id="c5"><rect x="1111.7" y="453.7" width="575.6" height="200"/></clipPath><clipPath id="m5"><use href="#f5"/></clipPath></defs>
<use href="#f5" fill="#d1e1ec" clip-path="url(#c5)"/>
<rect x="1394.0" y="453.7" width="9" height="200" fill="#005b9a" clip-path="url(#m5)"/>
<path d="M863.3,648.4l4,-.2l4,-.3l4,-.2l4,-.3l4,-.2l4,-.2l4,-.3l4,-.2l4,-.3l4,-.2l4,-.3l4,-.2l4,-.2l4,-.3l4,-.2l4,-.3l4,-.2l4,-.2l4,-.3l4,-.2l4,-.3l4,-.2l4,-.3l4,-.2l4,-.2l4,-.3l4,-.2l4,-.3l4,-.2l4,-.2l4,-.3l4,-.2l4,-.3l4,-.2l4,-.3l4,-.2l4,-.2l4,-.3l4,-.2l4,-.3l4,-.2l4,-.2l4,-.3l4,-.2l4,-.3l4,-.2l4,-.3l4,-.2l4,-.2l4,-.3l4,-.2l4,-.3l4,-.2l4,-.2l4,-.3l4,-.2l4,-.3l4,-.2l4,-.3l4,-.2l4,-.3l4,-.3l4,-.4l4,-.5l4,-.6l4,-.7l4,-.8l4,-.9l4,-1l4,-1l4,-1l4,-1.1l4,-.9l4,-1l4,-.9l4,-.8l4,-.8l4,-.7l4,-.8l4,-.6l4,-.7l4,-.6l4,-.6l4,-.5l4,-.6l4,-.5l4,-.4l4,-.5l4,-.4l4,-.4l4,-.5l4,-.5l4,-.6l4,-.7l4,-.7l4,-.8l4,-.9l4,-.9l4,-.9l4,-.9l4,-1l4,-1l4,-1l4,-1l4,-.9l4,-1l4,-1l4,-.9l4,-1l4,-1l4,-.9l4,-1l4,-1l4,-.9l4,-1l4,-.9l4,-.8l4,-.9l4,-.8l4,-.8l4,-.7l4,-.7l4,-.6l4,-.6l4,-.5l4,-.5l4,-.5l4,-.5l4,-.4l4,-.3l4,-.3l4,-.1l4,0l4,.2l4,.2l4,.5l4,.5l4,.6l4,.6l4,.7l4,.6l4,.6l4,.7l4,.7l4,.6l4,.7l4,.7l4,.6l4,.7l4,.7l4,.7l4,.7l4,.7l4,.7l4,.7l4,.7l4,.7l4,.7l4,.7l4,.7l4,.8l4,.7l4,.8l4,.9l4,.9l4,.9l4,1l4,1.1l4,1l4,1.1l4,1.1l4,1l4,1l4,1l4,.9l4,.9l4,.8l4,.9l4,.8l4,.8l4,.9l4,.8l4,.8l4,.8l4,.8l4,.8l4,.8l4,.8l4,.8l4,.7l4,.8l4,.7l4,.8l4,.7l4,.8l4,.7l4,.7l4,.7l4,.6l4,.6l4,.6l4,.5l4,.5l4,.5l4,.4l4,.4l4,.3l4,.4l4,.3l4,.3l4,.4l4,.3l4,.3l4,.3l4,.3l4,.3l4,.3l4,.3l4,.3l4,.3l4,.3l4,.3l4,.3l4,.2l4,.3l4,.2l4,.2l4,.3l4,.2l4,.2l4,.2l4,.2l4,.2l4,.2l4,.1l4,.2l4,.2l4,.1l4,.2l4,.2l4,.1l4,.2l4,.2l4,.1l4,.2l4,.2l4,.1l4,.2l4,.1l4,.2l4,.2l4,.1l4,.2l4,.2l4,.1l4,.2l4,.2l4,.1l4,.2l4,.2l4,.1l4,.2l4,.2l4,.1l4,.2l4,.2l4,.1l2,.1" fill="none" stroke="#03386c" stroke-width="4.6" stroke-linejoin="round" stroke-linecap="butt"/>
<rect x="863.3" y="651.4" width="1070.0" height="4.6" fill="#03386c"/>
<rect x="689" y="648.9" width="13" height="9.8" fill="#333333"/>
<text x="680" y="667.5" text-anchor="end" font-family="Liberation Serif" font-weight="bold" font-size="40" fill="#4d4d4d">Nervous System</text>
<defs><path id="f6" d="M851.7,728.4l4,-.2l4,-.2l4,-.2l4,-.2l4,-.2l4,-.3l4,-.2l4,-.2l4,-.2l4,-.2l4,-.2l4,-.2l4,-.2l4,-.2l4,-.2l4,-.2l4,-.3l4,-.2l4,-.2l4,-.2l4,-.2l4,-.2l4,-.2l4,-.2l4,-.2l4,-.2l4,-.3l4,-.2l4,-.2l4,-.2l4,-.2l4,-.2l4,-.2l4,-.2l4,-.2l4,-.2l4,-.2l4,-.3l4,-.2l4,-.2l4,-.2l4,-.2l4,-.2l4,-.2l4,-.2l4,-.2l4,-.2l4,-.2l4,-.3l4,-.2l4,-.2l4,-.2l4,-.2l4,-.2l4,-.2l4,-.2l4,-.2l4,-.3l4,-.2l4,-.3l4,-.3l4,-.3l4,-.4l4,-.4l4,-.5l4,-.5l4,-.5l4,-.5l4,-.6l4,-.5l4,-.5l4,-.5l4,-.5l4,-.5l4,-.5l4,-.5l4,-.6l4,-.5l4,-.5l4,-.6l4,-.5l4,-.6l4,-.6l4,-.6l4,-.6l4,-.7l4,-.7l4,-.8l4,-.9l4,-.9l4,-.9l4,-1l4,-1l4,-1l4,-.9l4,-1l4,-.9l4,-.8l4,-.8l4,-.7l4,-.7l4,-.8l4,-.6l4,-.7l4,-.7l4,-.7l4,-.8l4,-.7l4,-.8l4,-.8l4,-.9l4,-.9l4,-1l4,-1.1l4,-1.1l4,-1.1l4,-1.2l4,-1.2l4,-1.1l4,-1.2l4,-1.1l4,-1l4,-1l4,-1l4,-.9l4,-.9l4,-.8l4,-.7l4,-.7l4,-.6l4,-.5l4,-.5l4,-.2l4,-.2l4,-.1l4,0l4,.2l4,.2l4,.4l4,.5l4,.5l4,.7l4,.6l4,.8l4,.7l4,.8l4,.8l4,.9l4,.8l4,.9l4,.9l4,.8l4,.9l4,.8l4,.8l4,.9l4,.8l4,.8l4,.8l4,.8l4,.8l4,.8l4,.8l4,.8l4,.7l4,.8l4,.8l4,.8l4,.8l4,.8l4,.8l4,.8l4,.7l4,.8l4,.8l4,.8l4,.7l4,.8l4,.8l4,.8l4,.8l4,.8l4,.8l4,.7l4,.8l4,.7l4,.7l4,.7l4,.8l4,.7l4,.7l4,.7l4,.7l4,.7l4,.7l4,.7l4,.7l4,.7l4,.7l4,.6l4,.7l4,.6l4,.7l4,.6l4,.6l4,.5l4,.6l4,.5l4,.5l4,.5l4,.5l4,.4l4,.5l4,.4l4,.4l4,.4l4,.4l4,.3l4,.4l4,.3l4,.3l4,.3l4,.3l4,.2l4,.3l4,.2l4,.2l4,.2l4,.2l4,.2l4,.2l4,.2l4,.2l4,.2l4,.1l4,.2l4,.2l4,.2l4,.2l4,.1l4,.2l4,.2l4,.2l4,.2l4,.2l4,.1l4,.2l4,.2l4,.2l4,.2l4,.1l4,.2l4,.2l4,.2l4,.2l4,.2l4,.1l4,.2l4,.2l4,.2l4,.2l4,.1l4,.2l4,.2l4,.2l4,.2l4,.1l4,.2l1.3,.1 L1925.0,733.7 L851.7,733.7 Z"/><clipPath id="c6"><rect x="1088.7" y="533.7" width="596.3" height="200"/></clipPath><clipPath id="m6"><use href="#f6"/></clipPath></defs>
<use href="#f6" fill="#d1e1ec" clip-path="url(#c6)"/>
<rect x="1390.5" y="533.7" width="9" height="200" fill="#005b9a" clip-path="url(#m6)"/>
<path d="M851.7,728.4l4,-.2l4,-.2l4,-.2l4,-.2l4,-.2l4,-.3l4,-.2l4,-.2l4,-.2l4,-.2l4,-.2l4,-.2l4,-.2l4,-.2l4,-.2l4,-.2l4,-.3l4,-.2l4,-.2l4,-.2l4,-.2l4,-.2l4,-.2l4,-.2l4,-.2l4,-.2l4,-.3l4,-.2l4,-.2l4,-.2l4,-.2l4,-.2l4,-.2l4,-.2l4,-.2l4,-.2l4,-.2l4,-.3l4,-.2l4,-.2l4,-.2l4,-.2l4,-.2l4,-.2l4,-.2l4,-.2l4,-.2l4,-.2l4,-.3l4,-.2l4,-.2l4,-.2l4,-.2l4,-.2l4,-.2l4,-.2l4,-.2l4,-.3l4,-.2l4,-.3l4,-.3l4,-.3l4,-.4l4,-.4l4,-.5l4,-.5l4,-.5l4,-.5l4,-.6l4,-.5l4,-.5l4,-.5l4,-.5l4,-.5l4,-.5l4,-.5l4,-.6l4,-.5l4,-.5l4,-.6l4,-.5l4,-.6l4,-.6l4,-.6l4,-.6l4,-.7l4,-.7l4,-.8l4,-.9l4,-.9l4,-.9l4,-1l4,-1l4,-1l4,-.9l4,-1l4,-.9l4,-.8l4,-.8l4,-.7l4,-.7l4,-.8l4,-.6l4,-.7l4,-.7l4,-.7l4,-.8l4,-.7l4,-.8l4,-.8l4,-.9l4,-.9l4,-1l4,-1.1l4,-1.1l4,-1.1l4,-1.2l4,-1.2l4,-1.1l4,-1.2l4,-1.1l4,-1l4,-1l4,-1l4,-.9l4,-.9l4,-.8l4,-.7l4,-.7l4,-.6l4,-.5l4,-.5l4,-.2l4,-.2l4,-.1l4,0l4,.2l4,.2l4,.4l4,.5l4,.5l4,.7l4,.6l4,.8l4,.7l4,.8l4,.8l4,.9l4,.8l4,.9l4,.9l4,.8l4,.9l4,.8l4,.8l4,.9l4,.8l4,.8l4,.8l4,.8l4,.8l4,.8l4,.8l4,.8l4,.7l4,.8l4,.8l4,.8l4,.8l4,.8l4,.8l4,.8l4,.7l4,.8l4,.8l4,.8l4,.7l4,.8l4,.8l4,.8l4,.8l4,.8l4,.8l4,.7l4,.8l4,.7l4,.7l4,.7l4,.8l4,.7l4,.7l4,.7l4,.7l4,.7l4,.7l4,.7l4,.7l4,.7l4,.7l4,.6l4,.7l4,.6l4,.7l4,.6l4,.6l4,.5l4,.6l4,.5l4,.5l4,.5l4,.5l4,.4l4,.5l4,.4l4,.4l4,.4l4,.4l4,.3l4,.4l4,.3l4,.3l4,.3l4,.3l4,.2l4,.3l4,.2l4,.2l4,.2l4,.2l4,.2l4,.2l4,.2l4,.2l4,.2l4,.1l4,.2l4,.2l4,.2l4,.2l4,.1l4,.2l4,.2l4,.2l4,.2l4,.2l4,.1l4,.2l4,.2l4,.2l4,.2l4,.1l4,.2l4,.2l4,.2l4,.2l4,.2l4,.1l4,.2l4,.2l4,.2l4,.2l4,.1l4,.2l4,.2l4,.2l4,.2l4,.1l4,.2l1.3,.1" fill="none" stroke="#03386c" stroke-width="4.6" stroke-linejoin="round" stroke-linecap="butt"/>
<rect x="851.7" y="731.4" width="1073.3" height="4.6" fill="#03386c"/>
<rect x="689" y="728.9" width="13" height="9.8" fill="#333333"/>
<text x="680" y="747.5" text-anchor="end" font-family="Liberation Serif" font-weight="bold" font-size="40" fill="#4d4d4d">Eye and Adnexa</text>
<defs><path id="f7" d="M836.7,808.4l4,-.2l4,-.2l4,-.2l4,-.2l4,-.2l4,-.2l4,-.3l4,-.2l4,-.2l4,-.2l4,-.2l4,-.2l4,-.2l4,-.2l4,-.2l4,-.2l4,-.2l4,-.2l4,-.2l4,-.3l4,-.2l4,-.2l4,-.2l4,-.2l4,-.2l4,-.2l4,-.2l4,-.2l4,-.2l4,-.2l4,-.2l4,-.2l4,-.2l4,-.3l4,-.2l4,-.2l4,-.2l4,-.2l4,-.2l4,-.2l4,-.2l4,-.2l4,-.2l4,-.2l4,-.2l4,-.2l4,-.3l4,-.2l4,-.2l4,-.2l4,-.2l4,-.2l4,-.2l4,-.2l4,-.2l4,-.2l4,-.2l4,-.2l4,-.2l4,-.3l4,-.2l4,-.2l4,-.2l4,-.2l4,-.2l4,-.3l4,-.3l4,-.3l4,-.4l4,-.4l4,-.4l4,-.5l4,-.5l4,-.5l4,-.5l4,-.5l4,-.5l4,-.6l4,-.6l4,-.5l4,-.6l4,-.5l4,-.6l4,-.6l4,-.5l4,-.6l4,-.6l4,-.7l4,-.6l4,-.7l4,-.7l4,-.7l4,-.8l4,-.8l4,-.8l4,-1l4,-1l4,-1.1l4,-1.2l4,-1.2l4,-1.2l4,-1.2l4,-1.2l4,-1.2l4,-1.2l4,-1.2l4,-1.1l4,-1.2l4,-1.2l4,-1.1l4,-1l4,-1l4,-1l4,-.9l4,-.8l4,-.8l4,-.7l4,-.7l4,-.7l4,-.7l4,-.6l4,-.6l4,-.6l4,-.5l4,-.6l4,-.6l4,-.5l4,-.5l4,-.5l4,-.4l4,-.4l4,-.4l4,-.4l4,-.3l4,-.2l4,-.2l4,-.1l4,-.1l4,.1l4,.2l4,.4l4,.5l4,.6l4,.7l4,.7l4,.7l4,.7l4,.7l4,.6l4,.7l4,.7l4,.7l4,.6l4,.7l4,.7l4,.6l4,.7l4,.7l4,.6l4,.7l4,.7l4,.7l4,.6l4,.7l4,.7l4,.7l4,.6l4,.7l4,.6l4,.7l4,.6l4,.6l4,.6l4,.6l4,.6l4,.5l4,.6l4,.6l4,.7l4,.7l4,.8l4,.9l4,.9l4,1l4,1.1l4,1.1l4,1l4,1l4,1l4,.8l4,.8l4,.7l4,.7l4,.7l4,.6l4,.6l4,.6l4,.6l4,.6l4,.5l4,.6l4,.5l4,.5l4,.5l4,.5l4,.5l4,.5l4,.5l4,.5l4,.5l4,.4l4,.5l4,.4l4,.5l4,.4l4,.5l4,.4l4,.5l4,.4l4,.4l4,.4l4,.4l4,.4l4,.3l4,.4l4,.3l4,.3l4,.3l4,.3l4,.2l4,.3l4,.2l4,.2l4,.2l4,.2l4,.1l4,.2l4,.2l4,.2l4,.2l4,.1l4,.2l4,.2l4,.2l4,.2l4,.1l4,.2l4,.2l4,.2l4,.2l4,.2l4,.1l4,.2l4,.2l4,.2l4,.2l4,.1l4,.2l4,.2l4,.2l4,.2l4,.1l4,.2l4,.2l4,.2l4,.2l4,.1l4,.2l4,.2l4,.2l4,.2l4,.1l4,.2l3.6,.2 L1932.3,813.7 L836.7,813.7 Z"/><clipPath id="c7"><rect x="1095.0" y="613.7" width="590.7" height="200"/></clipPath><clipPath id="m7"><use href="#f7"/></clipPath></defs>
<use href="#f7" fill="#d1e1ec" clip-path="url(#c7)"/>
<rect x="1391.2" y="613.7" width="9" height="200" fill="#005b9a" clip-path="url(#m7)"/>
<path d="M836.7,808.4l4,-.2l4,-.2l4,-.2l4,-.2l4,-.2l4,-.2l4,-.3l4,-.2l4,-.2l4,-.2l4,-.2l4,-.2l4,-.2l4,-.2l4,-.2l4,-.2l4,-.2l4,-.2l4,-.2l4,-.3l4,-.2l4,-.2l4,-.2l4,-.2l4,-.2l4,-.2l4,-.2l4,-.2l4,-.2l4,-.2l4,-.2l4,-.2l4,-.2l4,-.3l4,-.2l4,-.2l4,-.2l4,-.2l4,-.2l4,-.2l4,-.2l4,-.2l4,-.2l4,-.2l4,-.2l4,-.2l4,-.3l4,-.2l4,-.2l4,-.2l4,-.2l4,-.2l4,-.2l4,-.2l4,-.2l4,-.2l4,-.2l4,-.2l4,-.2l4,-.3l4,-.2l4,-.2l4,-.2l4,-.2l4,-.2l4,-.3l4,-.3l4,-.3l4,-.4l4,-.4l4,-.4l4,-.5l4,-.5l4,-.5l4,-.5l4,-.5l4,-.5l4,-.6l4,-.6l4,-.5l4,-.6l4,-.5l4,-.6l4,-.6l4,-.5l4,-.6l4,-.6l4,-.7l4,-.6l4,-.7l4,-.7l4,-.7l4,-.8l4,-.8l4,-.8l4,-1l4,-1l4,-1.1l4,-1.2l4,-1.2l4,-1.2l4,-1.2l4,-1.2l4,-1.2l4,-1.2l4,-1.2l4,-1.1l4,-1.2l4,-1.2l4,-1.1l4,-1l4,-1l4,-1l4,-.9l4,-.8l4,-.8l4,-.7l4,-.7l4,-.7l4,-.7l4,-.6l4,-.6l4,-.6l4,-.5l4,-.6l4,-.6l4,-.5l4,-.5l4,-.5l4,-.4l4,-.4l4,-.4l4,-.4l4,-.3l4,-.2l4,-.2l4,-.1l4,-.1l4,.1l4,.2l4,.4l4,.5l4,.6l4,.7l4,.7l4,.7l4,.7l4,.7l4,.6l4,.7l4,.7l4,.7l4,.6l4,.7l4,.7l4,.6l4,.7l4,.7l4,.6l4,.7l4,.7l4,.7l4,.6l4,.7l4,.7l4,.7l4,.6l4,.7l4,.6l4,.7l4,.6l4,.6l4,.6l4,.6l4,.6l4,.5l4,.6l4,.6l4,.7l4,.7l4,.8l4,.9l4,.9l4,1l4,1.1l4,1.1l4,1l4,1l4,1l4,.8l4,.8l4,.7l4,.7l4,.7l4,.6l4,.6l4,.6l4,.6l4,.6l4,.5l4,.6l4,.5l4,.5l4,.5l4,.5l4,.5l4,.5l4,.5l4,.5l4,.5l4,.4l4,.5l4,.4l4,.5l4,.4l4,.5l4,.4l4,.5l4,.4l4,.4l4,.4l4,.4l4,.4l4,.3l4,.4l4,.3l4,.3l4,.3l4,.3l4,.2l4,.3l4,.2l4,.2l4,.2l4,.2l4,.1l4,.2l4,.2l4,.2l4,.2l4,.1l4,.2l4,.2l4,.2l4,.2l4,.1l4,.2l4,.2l4,.2l4,.2l4,.2l4,.1l4,.2l4,.2l4,.2l4,.2l4,.1l4,.2l4,.2l4,.2l4,.2l4,.1l4,.2l4,.2l4,.2l4,.2l4,.1l4,.2l4,.2l4,.2l4,.2l4,.1l4,.2l3.6,.2" fill="none" stroke="#03386c" stroke-width="4.6" stroke-linejoin="round" stroke-linecap="butt"/>
<rect x="836.7" y="811.4" width="1095.6" height="4.6" fill="#03386c"/>
<rect x="689" y="808.9" width="13" height="9.8" fill="#333333"/>
<text x="680" y="827.5" text-anchor="end" font-family="Liberation Serif" font-weight="bold" font-size="40" fill="#4d4d4d">Ear and Mastoid</text>
<defs><path id="f8" d="M881.7,888.4l4,-.3l4,-.2l4,-.3l4,-.2l4,-.3l4,-.2l4,-.3l4,-.2l4,-.3l4,-.3l4,-.2l4,-.3l4,-.2l4,-.3l4,-.2l4,-.3l4,-.3l4,-.2l4,-.3l4,-.2l4,-.3l4,-.2l4,-.3l4,-.2l4,-.3l4,-.3l4,-.2l4,-.3l4,-.2l4,-.3l4,-.2l4,-.3l4,-.2l4,-.3l4,-.3l4,-.2l4,-.3l4,-.2l4,-.3l4,-.2l4,-.3l4,-.3l4,-.2l4,-.3l4,-.2l4,-.3l4,-.2l4,-.3l4,-.2l4,-.3l4,-.3l4,-.2l4,-.3l4,-.2l4,-.3l4,-.3l4,-.3l4,-.4l4,-.4l4,-.5l4,-.5l4,-.5l4,-.7l4,-.6l4,-.7l4,-.7l4,-.7l4,-.7l4,-.7l4,-.7l4,-.7l4,-.7l4,-.7l4,-.7l4,-.7l4,-.7l4,-.7l4,-.8l4,-.7l4,-.7l4,-.8l4,-.7l4,-.8l4,-.8l4,-.7l4,-.8l4,-.8l4,-.8l4,-.9l4,-.8l4,-.9l4,-.9l4,-.9l4,-.9l4,-1l4,-.9l4,-1l4,-1l4,-.9l4,-1l4,-.9l4,-.9l4,-.9l4,-.8l4,-.9l4,-.8l4,-.9l4,-.8l4,-.8l4,-.8l4,-.7l4,-.8l4,-.7l4,-.7l4,-.6l4,-.6l4,-.6l4,-.6l4,-.5l4,-.4l4,-.5l4,-.4l4,-.4l4,-.3l4,-.3l4,-.2l4,0l4,.1l4,.2l4,.4l4,.4l4,.5l4,.6l4,.5l4,.6l4,.6l4,.5l4,.5l4,.6l4,.5l4,.5l4,.5l4,.6l4,.5l4,.5l4,.6l4,.5l4,.6l4,.6l4,.6l4,.6l4,.7l4,.7l4,.7l4,.7l4,.8l4,.9l4,.8l4,.9l4,.8l4,1l4,.9l4,.9l4,1l4,.9l4,1l4,1l4,1l4,1l4,1l4,1l4,1l4,1.1l4,1l4,1.1l4,.9l4,1l4,.8l4,.8l4,.7l4,.6l4,.6l4,.6l4,.6l4,.5l4,.5l4,.5l4,.5l4,.5l4,.5l4,.4l4,.5l4,.4l4,.4l4,.5l4,.4l4,.4l4,.4l4,.4l4,.4l4,.5l4,.4l4,.4l4,.4l4,.4l4,.5l4,.4l4,.5l4,.4l4,.4l4,.5l4,.4l4,.4l4,.4l4,.5l4,.4l4,.4l4,.3l4,.4l4,.4l4,.3l4,.3l4,.4l4,.2l4,.3l4,.3l4,.2l4,.2l4,.2l4,.2l4,.1l4,.2l4,.1l4,.2l4,.1l4,.2l4,.1l4,.2l4,.1l4,.2l4,.1l4,.2l4,.1l4,.2l4,.1l4,.2l4,.1l4,.2l4,.1l4,.2l4,.1l4,.2l4,.1l4,.2l4,.1l4,.2l4,.1l4,.2l4,.1l4,.1l4,.2l2.6,.1 L1928.3,893.7 L881.7,893.7 Z"/><clipPath id="c8"><rect x="1106.7" y="693.7" width="583.3" height="200"/></clipPath><clipPath id="m8"><use href="#f8"/></clipPath></defs>
<use href="#f8" fill="#d1e1ec" clip-path="url(#c8)"/>
<rect x="1391.9" y="693.7" width="9" height="200" fill="#005b9a" clip-path="url(#m8)"/>
<path d="M881.7,888.4l4,-.3l4,-.2l4,-.3l4,-.2l4,-.3l4,-.2l4,-.3l4,-.2l4,-.3l4,-.3l4,-.2l4,-.3l4,-.2l4,-.3l4,-.2l4,-.3l4,-.3l4,-.2l4,-.3l4,-.2l4,-.3l4,-.2l4,-.3l4,-.2l4,-.3l4,-.3l4,-.2l4,-.3l4,-.2l4,-.3l4,-.2l4,-.3l4,-.2l4,-.3l4,-.3l4,-.2l4,-.3l4,-.2l4,-.3l4,-.2l4,-.3l4,-.3l4,-.2l4,-.3l4,-.2l4,-.3l4,-.2l4,-.3l4,-.2l4,-.3l4,-.3l4,-.2l4,-.3l4,-.2l4,-.3l4,-.3l4,-.3l4,-.4l4,-.4l4,-.5l4,-.5l4,-.5l4,-.7l4,-.6l4,-.7l4,-.7l4,-.7l4,-.7l4,-.7l4,-.7l4,-.7l4,-.7l4,-.7l4,-.7l4,-.7l4,-.7l4,-.7l4,-.8l4,-.7l4,-.7l4,-.8l4,-.7l4,-.8l4,-.8l4,-.7l4,-.8l4,-.8l4,-.8l4,-.9l4,-.8l4,-.9l4,-.9l4,-.9l4,-.9l4,-1l4,-.9l4,-1l4,-1l4,-.9l4,-1l4,-.9l4,-.9l4,-.9l4,-.8l4,-.9l4,-.8l4,-.9l4,-.8l4,-.8l4,-.8l4,-.7l4,-.8l4,-.7l4,-.7l4,-.6l4,-.6l4,-.6l4,-.6l4,-.5l4,-.4l4,-.5l4,-.4l4,-.4l4,-.3l4,-.3l4,-.2l4,0l4,.1l4,.2l4,.4l4,.4l4,.5l4,.6l4,.5l4,.6l4,.6l4,.5l4,.5l4,.6l4,.5l4,.5l4,.5l4,.6l4,.5l4,.5l4,.6l4,.5l4,.6l4,.6l4,.6l4,.6l4,.7l4,.7l4,.7l4,.7l4,.8l4,.9l4,.8l4,.9l4,.8l4,1l4,.9l4,.9l4,1l4,.9l4,1l4,1l4,1l4,1l4,1l4,1l4,1l4,1.1l4,1l4,1.1l4,.9l4,1l4,.8l4,.8l4,.7l4,.6l4,.6l4,.6l4,.6l4,.5l4,.5l4,.5l4,.5l4,.5l4,.5l4,.4l4,.5l4,.4l4,.4l4,.5l4,.4l4,.4l4,.4l4,.4l4,.4l4,.5l4,.4l4,.4l4,.4l4,.4l4,.5l4,.4l4,.5l4,.4l4,.4l4,.5l4,.4l4,.4l4,.4l4,.5l4,.4l4,.4l4,.3l4,.4l4,.4l4,.3l4,.3l4,.4l4,.2l4,.3l4,.3l4,.2l4,.2l4,.2l4,.2l4,.1l4,.2l4,.1l4,.2l4,.1l4,.2l4,.1l4,.2l4,.1l4,.2l4,.1l4,.2l4,.1l4,.2l4,.1l4,.2l4,.1l4,.2l4,.1l4,.2l4,.1l4,.2l4,.1l4,.2l4,.1l4,.2l4,.1l4,.2l4,.1l4,.1l4,.2l2.6,.1" fill="none" stroke="#03386c" stroke-width="4.6" stroke-linejoin="round" stroke-linecap="butt"/>
<rect x="881.7" y="891.4" width="1046.6" height="4.6" fill="#03386c"/>
<rect x="689" y="888.9" width="13" height="9.8" fill="#333333"/>
<text x="680" y="907.5" text-anchor="end" font-family="Liberation Serif" font-weight="bold" font-size="40" fill="#4d4d4d">Circulatory</text>
<defs><path id="f9" d="M857.3,968.4l4,-.2l4,-.2l4,-.3l4,-.2l4,-.2l4,-.2l4,-.2l4,-.3l4,-.2l4,-.2l4,-.2l4,-.2l4,-.3l4,-.2l4,-.2l4,-.2l4,-.2l4,-.3l4,-.2l4,-.2l4,-.2l4,-.2l4,-.3l4,-.2l4,-.2l4,-.2l4,-.2l4,-.3l4,-.2l4,-.2l4,-.2l4,-.2l4,-.3l4,-.2l4,-.2l4,-.2l4,-.2l4,-.3l4,-.2l4,-.2l4,-.2l4,-.2l4,-.3l4,-.2l4,-.2l4,-.2l4,-.2l4,-.3l4,-.2l4,-.2l4,-.2l4,-.2l4,-.3l4,-.2l4,-.2l4,-.2l4,-.2l4,-.3l4,-.2l4,-.2l4,-.3l4,-.3l4,-.3l4,-.4l4,-.4l4,-.5l4,-.5l4,-.5l4,-.6l4,-.6l4,-.6l4,-.7l4,-.6l4,-.7l4,-.7l4,-.6l4,-.7l4,-.6l4,-.7l4,-.7l4,-.7l4,-.8l4,-.7l4,-.8l4,-.8l4,-.7l4,-.8l4,-.8l4,-.7l4,-.8l4,-.7l4,-.7l4,-.8l4,-.8l4,-.8l4,-.9l4,-1l4,-1.1l4,-1l4,-1.1l4,-1.2l4,-1.1l4,-1.1l4,-1.1l4,-1.1l4,-1l4,-1l4,-.9l4,-.9l4,-.9l4,-.8l4,-.8l4,-.8l4,-.7l4,-.8l4,-.6l4,-.7l4,-.7l4,-.6l4,-.7l4,-.6l4,-.5l4,-.6l4,-.5l4,-.5l4,-.5l4,-.5l4,-.4l4,-.4l4,-.3l4,-.4l4,-.2l4,-.2l4,-.1l4,0l4,.1l4,.1l4,.3l4,.4l4,.5l4,.5l4,.6l4,.6l4,.6l4,.7l4,.6l4,.7l4,.7l4,.7l4,.7l4,.7l4,.8l4,.7l4,.8l4,.7l4,.8l4,.8l4,.8l4,.8l4,.8l4,.8l4,.8l4,.8l4,.9l4,.8l4,.8l4,.9l4,.8l4,.9l4,.8l4,.8l4,.9l4,.8l4,.9l4,.8l4,.9l4,.9l4,.9l4,.9l4,.9l4,.9l4,.9l4,.8l4,.8l4,.8l4,.7l4,.6l4,.7l4,.6l4,.6l4,.6l4,.6l4,.6l4,.6l4,.5l4,.6l4,.6l4,.5l4,.5l4,.6l4,.5l4,.5l4,.5l4,.5l4,.5l4,.5l4,.5l4,.4l4,.5l4,.4l4,.5l4,.4l4,.5l4,.4l4,.4l4,.4l4,.4l4,.4l4,.3l4,.4l4,.3l4,.3l4,.3l4,.3l4,.3l4,.2l4,.2l4,.2l4,.2l4,.2l4,.2l4,.2l4,.2l4,.1l4,.2l4,.2l4,.2l4,.2l4,.2l4,.2l4,.2l4,.2l4,.1l4,.2l4,.2l4,.2l4,.2l4,.2l4,.2l4,.2l4,.1l4,.2l4,.2l4,.2l4,.2l4,.2l4,.2l4,.2l4,.1l4,.2l4,.2l4,.2l4,.2l4,.2l4,.1l2.7,.2 L1920.0,973.7 L857.3,973.7 Z"/><clipPath id="c9"><rect x="1101.0" y="773.7" width="588.0" height="200"/></clipPath><clipPath id="m9"><use href="#f9"/></clipPath></defs>
<use href="#f9" fill="#d1e1ec" clip-path="url(#c9)"/>
<rect x="1391.9" y="773.7" width="9" height="200" fill="#005b9a" clip-path="url(#m9)"/>
<path d="M857.3,968.4l4,-.2l4,-.2l4,-.3l4,-.2l4,-.2l4,-.2l4,-.2l4,-.3l4,-.2l4,-.2l4,-.2l4,-.2l4,-.3l4,-.2l4,-.2l4,-.2l4,-.2l4,-.3l4,-.2l4,-.2l4,-.2l4,-.2l4,-.3l4,-.2l4,-.2l4,-.2l4,-.2l4,-.3l4,-.2l4,-.2l4,-.2l4,-.2l4,-.3l4,-.2l4,-.2l4,-.2l4,-.2l4,-.3l4,-.2l4,-.2l4,-.2l4,-.2l4,-.3l4,-.2l4,-.2l4,-.2l4,-.2l4,-.3l4,-.2l4,-.2l4,-.2l4,-.2l4,-.3l4,-.2l4,-.2l4,-.2l4,-.2l4,-.3l4,-.2l4,-.2l4,-.3l4,-.3l4,-.3l4,-.4l4,-.4l4,-.5l4,-.5l4,-.5l4,-.6l4,-.6l4,-.6l4,-.7l4,-.6l4,-.7l4,-.7l4,-.6l4,-.7l4,-.6l4,-.7l4,-.7l4,-.7l4,-.8l4,-.7l4,-.8l4,-.8l4,-.7l4,-.8l4,-.8l4,-.7l4,-.8l4,-.7l4,-.7l4,-.8l4,-.8l4,-.8l4,-.9l4,-1l4,-1.1l4,-1l4,-1.1l4,-1.2l4,-1.1l4,-1.1l4,-1.1l4,-1.1l4,-1l4,-1l4,-.9l4,-.9l4,-.9l4,-.8l4,-.8l4,-.8l4,-.7l4,-.8l4,-.6l4,-.7l4,-.7l4,-.6l4,-.7l4,-.6l4,-.5l4,-.6l4,-.5l4,-.5l4,-.5l4,-.5l4,-.4l4,-.4l4,-.3l4,-.4l4,-.2l4,-.2l4,-.1l4,0l4,.1l4,.1l4,.3l4,.4l4,.5l4,.5l4,.6l4,.6l4,.6l4,.7l4,.6l4,.7l4,.7l4,.7l4,.7l4,.7l4,.8l4,.7l4,.8l4,.7l4,.8l4,.8l4,.8l4,.8l4,.8l4,.8l4,.8l4,.8l4,.9l4,.8l4,.8l4,.9l4,.8l4,.9l4,.8l4,.8l4,.9l4,.8l4,.9l4,.8l4,.9l4,.9l4,.9l4,.9l4,.9l4,.9l4,.9l4,.8l4,.8l4,.8l4,.7l4,.6l4,.7l4,.6l4,.6l4,.6l4,.6l4,.6l4,.6l4,.5l4,.6l4,.6l4,.5l4,.5l4,.6l4,.5l4,.5l4,.5l4,.5l4,.5l4,.5l4,.5l4,.4l4,.5l4,.4l4,.5l4,.4l4,.5l4,.4l4,.4l4,.4l4,.4l4,.4l4,.3l4,.4l4,.3l4,.3l4,.3l4,.3l4,.3l4,.2l4,.2l4,.2l4,.2l4,.2l4,.2l4,.2l4,.2l4,.1l4,.2l4,.2l4,.2l4,.2l4,.2l4,.2l4,.2l4,.2l4,.1l4,.2l4,.2l4,.2l4,.2l4,.2l4,.2l4,.2l4,.1l4,.2l4,.2l4,.2l4,.2l4,.2l4,.2l4,.2l4,.1l4,.2l4,.2l4,.2l4,.2l4,.2l4,.1l2.7,.2" fill="none" stroke="#03386c" stroke-width="4.6" stroke-linejoin="round" stroke-linecap="butt"/>
<rect x="857.3" y="971.4" width="1062.7" height="4.6" fill="#03386c"/>
<rect x="689" y="968.9" width="13" height="9.8" fill="#333333"/>
<text x="680" y="987.5" text-anchor="end" font-family="Liberation Serif" font-weight="bold" font-size="40" fill="#4d4d4d">Respiratory</text>
<defs><path id="f10" d="M857.3,1048.4l4,-.2l4,-.3l4,-.2l4,-.2l4,-.3l4,-.2l4,-.2l4,-.2l4,-.3l4,-.2l4,-.2l4,-.3l4,-.2l4,-.2l4,-.3l4,-.2l4,-.2l4,-.3l4,-.2l4,-.2l4,-.3l4,-.2l4,-.2l4,-.2l4,-.3l4,-.2l4,-.2l4,-.3l4,-.2l4,-.2l4,-.3l4,-.2l4,-.2l4,-.3l4,-.2l4,-.2l4,-.2l4,-.3l4,-.2l4,-.2l4,-.3l4,-.2l4,-.2l4,-.3l4,-.2l4,-.2l4,-.3l4,-.2l4,-.2l4,-.2l4,-.3l4,-.2l4,-.2l4,-.3l4,-.2l4,-.2l4,-.3l4,-.2l4,-.2l4,-.3l4,-.2l4,-.3l4,-.3l4,-.3l4,-.4l4,-.4l4,-.6l4,-.5l4,-.6l4,-.7l4,-.7l4,-.7l4,-.7l4,-.7l4,-.7l4,-.7l4,-.7l4,-.8l4,-.7l4,-.7l4,-.7l4,-.7l4,-.8l4,-.7l4,-.8l4,-.7l4,-.8l4,-.8l4,-.8l4,-.8l4,-.8l4,-.8l4,-.8l4,-.8l4,-.8l4,-.8l4,-.8l4,-.9l4,-.9l4,-.9l4,-.9l4,-.9l4,-.9l4,-.8l4,-.9l4,-.9l4,-.8l4,-.8l4,-.7l4,-.8l4,-.7l4,-.7l4,-.7l4,-.7l4,-.6l4,-.7l4,-.6l4,-.6l4,-.7l4,-.6l4,-.6l4,-.6l4,-.7l4,-.6l4,-.6l4,-.6l4,-.5l4,-.5l4,-.5l4,-.5l4,-.3l4,-.3l4,-.2l4,-.1l4,0l4,.1l4,.2l4,.2l4,.3l4,.3l4,.4l4,.5l4,.5l4,.5l4,.6l4,.7l4,.7l4,.7l4,.8l4,.8l4,.9l4,.8l4,.9l4,.8l4,.8l4,.9l4,.8l4,.7l4,.8l4,.8l4,.7l4,.7l4,.8l4,.7l4,.7l4,.7l4,.7l4,.7l4,.8l4,.7l4,.7l4,.8l4,.7l4,.8l4,.8l4,.8l4,.9l4,.9l4,1l4,.9l4,1l4,1l4,.9l4,.8l4,.8l4,.7l4,.7l4,.7l4,.6l4,.7l4,.6l4,.6l4,.6l4,.6l4,.6l4,.5l4,.6l4,.5l4,.6l4,.5l4,.5l4,.5l4,.5l4,.5l4,.5l4,.4l4,.5l4,.4l4,.4l4,.4l4,.4l4,.4l4,.4l4,.4l4,.4l4,.4l4,.3l4,.4l4,.3l4,.4l4,.3l4,.4l4,.3l4,.3l4,.3l4,.3l4,.2l4,.3l4,.3l4,.2l4,.3l4,.2l4,.2l4,.2l4,.2l4,.1l4,.2l4,.2l4,.2l4,.1l4,.2l4,.2l4,.1l4,.2l4,.2l4,.1l4,.2l4,.2l4,.2l4,.1l4,.2l4,.2l4,.1l4,.2l4,.2l4,.1l4,.2l4,.2l4,.1l4,.2l4,.2l4,.2l4,.1l4,.2l4,.2l4,.1l4,.2l4,.1l.7,.1 L1930.0,1053.7 L857.3,1053.7 Z"/><clipPath id="c10"><rect x="1106.7" y="853.7" width="582.6" height="200"/></clipPath><clipPath id="m10"><use href="#f10"/></clipPath></defs>
<use href="#f10" fill="#d1e1ec" clip-path="url(#c10)"/>
<rect x="1391.9" y="853.7" width="9" height="200" fill="#005b9a" clip-path="url(#m10)"/>
<path d="M857.3,1048.4l4,-.2l4,-.3l4,-.2l4,-.2l4,-.3l4,-.2l4,-.2l4,-.2l4,-.3l4,-.2l4,-.2l4,-.3l4,-.2l4,-.2l4,-.3l4,-.2l4,-.2l4,-.3l4,-.2l4,-.2l4,-.3l4,-.2l4,-.2l4,-.2l4,-.3l4,-.2l4,-.2l4,-.3l4,-.2l4,-.2l4,-.3l4,-.2l4,-.2l4,-.3l4,-.2l4,-.2l4,-.2l4,-.3l4,-.2l4,-.2l4,-.3l4,-.2l4,-.2l4,-.3l4,-.2l4,-.2l4,-.3l4,-.2l4,-.2l4,-.2l4,-.3l4,-.2l4,-.2l4,-.3l4,-.2l4,-.2l4,-.3l4,-.2l4,-.2l4,-.3l4,-.2l4,-.3l4,-.3l4,-.3l4,-.4l4,-.4l4,-.6l4,-.5l4,-.6l4,-.7l4,-.7l4,-.7l4,-.7l4,-.7l4,-.7l4,-.7l4,-.7l4,-.8l4,-.7l4,-.7l4,-.7l4,-.7l4,-.8l4,-.7l4,-.8l4,-.7l4,-.8l4,-.8l4,-.8l4,-.8l4,-.8l4,-.8l4,-.8l4,-.8l4,-.8l4,-.8l4,-.8l4,-.9l4,-.9l4,-.9l4,-.9l4,-.9l4,-.9l4,-.8l4,-.9l4,-.9l4,-.8l4,-.8l4,-.7l4,-.8l4,-.7l4,-.7l4,-.7l4,-.7l4,-.6l4,-.7l4,-.6l4,-.6l4,-.7l4,-.6l4,-.6l4,-.6l4,-.7l4,-.6l4,-.6l4,-.6l4,-.5l4,-.5l4,-.5l4,-.5l4,-.3l4,-.3l4,-.2l4,-.1l4,0l4,.1l4,.2l4,.2l4,.3l4,.3l4,.4l4,.5l4,.5l4,.5l4,.6l4,.7l4,.7l4,.7l4,.8l4,.8l4,.9l4,.8l4,.9l4,.8l4,.8l4,.9l4,.8l4,.7l4,.8l4,.8l4,.7l4,.7l4,.8l4,.7l4,.7l4,.7l4,.7l4,.7l4,.8l4,.7l4,.7l4,.8l4,.7l4,.8l4,.8l4,.8l4,.9l4,.9l4,1l4,.9l4,1l4,1l4,.9l4,.8l4,.8l4,.7l4,.7l4,.7l4,.6l4,.7l4,.6l4,.6l4,.6l4,.6l4,.6l4,.5l4,.6l4,.5l4,.6l4,.5l4,.5l4,.5l4,.5l4,.5l4,.5l4,.4l4,.5l4,.4l4,.4l4,.4l4,.4l4,.4l4,.4l4,.4l4,.4l4,.4l4,.3l4,.4l4,.3l4,.4l4,.3l4,.4l4,.3l4,.3l4,.3l4,.3l4,.2l4,.3l4,.3l4,.2l4,.3l4,.2l4,.2l4,.2l4,.2l4,.1l4,.2l4,.2l4,.2l4,.1l4,.2l4,.2l4,.1l4,.2l4,.2l4,.1l4,.2l4,.2l4,.2l4,.1l4,.2l4,.2l4,.1l4,.2l4,.2l4,.1l4,.2l4,.2l4,.1l4,.2l4,.2l4,.2l4,.1l4,.2l4,.2l4,.1l4,.2l4,.1l.7,.1" fill="none" stroke="#03386c" stroke-width="4.6" stroke-linejoin="round" stroke-linecap="butt"/>
<rect x="857.3" y="1051.4" width="1072.7" height="4.6" fill="#03386c"/>
<rect x="689" y="1048.9" width="13" height="9.8" fill="#333333"/>
<text x="680" y="1067.5" text-anchor="end" font-family="Liberation Serif" font-weight="bold" font-size="40" fill="#4d4d4d">Digestive</text>
<defs><path id="f11" d="M875.0,1128.4l4,-.3l4,-.2l4,-.3l4,-.2l4,-.3l4,-.3l4,-.2l4,-.3l4,-.2l4,-.3l4,-.3l4,-.2l4,-.3l4,-.3l4,-.2l4,-.3l4,-.2l4,-.3l4,-.3l4,-.2l4,-.3l4,-.2l4,-.3l4,-.3l4,-.2l4,-.3l4,-.2l4,-.3l4,-.3l4,-.2l4,-.3l4,-.2l4,-.3l4,-.3l4,-.2l4,-.3l4,-.3l4,-.2l4,-.3l4,-.2l4,-.3l4,-.3l4,-.2l4,-.3l4,-.2l4,-.3l4,-.3l4,-.2l4,-.3l4,-.2l4,-.3l4,-.3l4,-.2l4,-.3l4,-.3l4,-.2l4,-.3l4,-.3l4,-.3l4,-.4l4,-.4l4,-.5l4,-.5l4,-.6l4,-.5l4,-.6l4,-.7l4,-.6l4,-.6l4,-.7l4,-.6l4,-.6l4,-.6l4,-.6l4,-.7l4,-.6l4,-.6l4,-.6l4,-.6l4,-.6l4,-.6l4,-.7l4,-.6l4,-.7l4,-.6l4,-.7l4,-.7l4,-.7l4,-.7l4,-.8l4,-.8l4,-.8l4,-.8l4,-.9l4,-.9l4,-.9l4,-1l4,-.9l4,-1l4,-1l4,-1l4,-.9l4,-1l4,-.9l4,-.9l4,-.9l4,-1l4,-.9l4,-.9l4,-.9l4,-.9l4,-.8l4,-.9l4,-.8l4,-.7l4,-.8l4,-.7l4,-.6l4,-.6l4,-.6l4,-.5l4,-.5l4,-.5l4,-.4l4,-.4l4,-.4l4,-.2l4,-.3l4,-.1l4,-.1l4,0l4,0l4,0l4,0l4,.1l4,0l4,.1l4,.2l4,.2l4,.4l4,.4l4,.6l4,.6l4,.8l4,.8l4,.9l4,1l4,1l4,1l4,1.1l4,1.2l4,1.1l4,1.2l4,1.3l4,1.2l4,1.2l4,1.2l4,1.1l4,1.1l4,1l4,1.1l4,1l4,1l4,.9l4,.9l4,.9l4,.8l4,.8l4,.8l4,.7l4,.8l4,.9l4,.9l4,1l4,.8l4,.9l4,.7l4,.6l4,.5l4,.6l4,.4l4,.5l4,.5l4,.4l4,.5l4,.5l4,.4l4,.4l4,.5l4,.4l4,.4l4,.4l4,.5l4,.4l4,.4l4,.4l4,.4l4,.4l4,.4l4,.5l4,.4l4,.4l4,.4l4,.4l4,.5l4,.4l4,.5l4,.5l4,.4l4,.5l4,.5l4,.6l4,.5l4,.5l4,.5l4,.4l4,.5l4,.4l4,.4l4,.3l4,.3l4,.3l4,.2l4,.2l4,.1l4,.2l4,.2l4,.1l4,.2l4,.2l4,.1l4,.2l4,.2l4,.1l4,.2l4,.2l4,.1l4,.2l4,.2l4,.1l4,.2l4,.2l4,.1l4,.2l4,.2l4,.1l4,.2l4,.2l4,.1l4,.2l4,.2l4,.1l4,.2l4,.2l4,.1l4,.2l4,.2l4,.1l4,.2l4,.2l4,.1l4,.2l4,.2l4,.1l4,.2l4,.2l4,.1l3.7,.2 L1946.7,1133.7 L875.0,1133.7 Z"/><clipPath id="c11"><rect x="1105.0" y="933.7" width="594.0" height="200"/></clipPath><clipPath id="m11"><use href="#f11"/></clipPath></defs>
<use href="#f11" fill="#d1e1ec" clip-path="url(#c11)"/>
<rect x="1394.7" y="933.7" width="9" height="200" fill="#005b9a" clip-path="url(#m11)"/>
<path d="M875.0,1128.4l4,-.3l4,-.2l4,-.3l4,-.2l4,-.3l4,-.3l4,-.2l4,-.3l4,-.2l4,-.3l4,-.3l4,-.2l4,-.3l4,-.3l4,-.2l4,-.3l4,-.2l4,-.3l4,-.3l4,-.2l4,-.3l4,-.2l4,-.3l4,-.3l4,-.2l4,-.3l4,-.2l4,-.3l4,-.3l4,-.2l4,-.3l4,-.2l4,-.3l4,-.3l4,-.2l4,-.3l4,-.3l4,-.2l4,-.3l4,-.2l4,-.3l4,-.3l4,-.2l4,-.3l4,-.2l4,-.3l4,-.3l4,-.2l4,-.3l4,-.2l4,-.3l4,-.3l4,-.2l4,-.3l4,-.3l4,-.2l4,-.3l4,-.3l4,-.3l4,-.4l4,-.4l4,-.5l4,-.5l4,-.6l4,-.5l4,-.6l4,-.7l4,-.6l4,-.6l4,-.7l4,-.6l4,-.6l4,-.6l4,-.6l4,-.7l4,-.6l4,-.6l4,-.6l4,-.6l4,-.6l4,-.6l4,-.7l4,-.6l4,-.7l4,-.6l4,-.7l4,-.7l4,-.7l4,-.7l4,-.8l4,-.8l4,-.8l4,-.8l4,-.9l4,-.9l4,-.9l4,-1l4,-.9l4,-1l4,-1l4,-1l4,-.9l4,-1l4,-.9l4,-.9l4,-.9l4,-1l4,-.9l4,-.9l4,-.9l4,-.9l4,-.8l4,-.9l4,-.8l4,-.7l4,-.8l4,-.7l4,-.6l4,-.6l4,-.6l4,-.5l4,-.5l4,-.5l4,-.4l4,-.4l4,-.4l4,-.2l4,-.3l4,-.1l4,-.1l4,0l4,0l4,0l4,0l4,.1l4,0l4,.1l4,.2l4,.2l4,.4l4,.4l4,.6l4,.6l4,.8l4,.8l4,.9l4,1l4,1l4,1l4,1.1l4,1.2l4,1.1l4,1.2l4,1.3l4,1.2l4,1.2l4,1.2l4,1.1l4,1.1l4,1l4,1.1l4,1l4,1l4,.9l4,.9l4,.9l4,.8l4,.8l4,.8l4,.7l4,.8l4,.9l4,.9l4,1l4,.8l4,.9l4,.7l4,.6l4,.5l4,.6l4,.4l4,.5l4,.5l4,.4l4,.5l4,.5l4,.4l4,.4l4,.5l4,.4l4,.4l4,.4l4,.5l4,.4l4,.4l4,.4l4,.4l4,.4l4,.4l4,.5l4,.4l4,.4l4,.4l4,.4l4,.5l4,.4l4,.5l4,.5l4,.4l4,.5l4,.5l4,.6l4,.5l4,.5l4,.5l4,.4l4,.5l4,.4l4,.4l4,.3l4,.3l4,.3l4,.2l4,.2l4,.1l4,.2l4,.2l4,.1l4,.2l4,.2l4,.1l4,.2l4,.2l4,.1l4,.2l4,.2l4,.1l4,.2l4,.2l4,.1l4,.2l4,.2l4,.1l4,.2l4,.2l4,.1l4,.2l4,.2l4,.1l4,.2l4,.2l4,.1l4,.2l4,.2l4,.1l4,.2l4,.2l4,.1l4,.2l4,.2l4,.1l4,.2l4,.2l4,.1l4,.2l4,.2l4,.1l3.7,.2" fill="none" stroke="#03386c" stroke-width="4.6" stroke-linejoin="round" stroke-linecap="butt"/>
<rect x="875.0" y="1131.4" width="1071.7" height="4.6" fill="#03386c"/>
<rect x="689" y="1128.9" width="13" height="9.8" fill="#333333"/>
<text x="680" y="1147.5" text-anchor="end" font-family="Liberation Serif" font-weight="bold" font-size="40" fill="#4d4d4d">Skin &amp; Subcutaneaous tissue</text>
<defs><path id="f12" d="M863.3,1208.4l4,-.3l4,-.2l4,-.3l4,-.2l4,-.3l4,-.2l4,-.3l4,-.2l4,-.3l4,-.2l4,-.3l4,-.3l4,-.2l4,-.3l4,-.2l4,-.3l4,-.2l4,-.3l4,-.2l4,-.3l4,-.2l4,-.3l4,-.3l4,-.2l4,-.3l4,-.2l4,-.3l4,-.2l4,-.3l4,-.2l4,-.3l4,-.2l4,-.3l4,-.3l4,-.2l4,-.3l4,-.2l4,-.3l4,-.2l4,-.3l4,-.2l4,-.3l4,-.2l4,-.3l4,-.3l4,-.2l4,-.3l4,-.2l4,-.3l4,-.2l4,-.3l4,-.2l4,-.3l4,-.2l4,-.3l4,-.3l4,-.2l4,-.3l4,-.2l4,-.3l4,-.4l4,-.3l4,-.4l4,-.4l4,-.4l4,-.5l4,-.5l4,-.5l4,-.5l4,-.5l4,-.6l4,-.6l4,-.5l4,-.6l4,-.6l4,-.6l4,-.7l4,-.6l4,-.6l4,-.6l4,-.7l4,-.7l4,-.7l4,-.7l4,-.8l4,-.7l4,-.8l4,-.9l4,-.8l4,-.8l4,-.8l4,-.8l4,-.8l4,-.7l4,-.8l4,-.8l4,-.7l4,-.7l4,-.8l4,-.7l4,-.7l4,-.8l4,-.7l4,-.7l4,-.8l4,-.7l4,-.7l4,-.8l4,-.8l4,-.7l4,-.8l4,-.8l4,-.8l4,-.8l4,-.9l4,-.8l4,-.8l4,-.9l4,-.8l4,-.9l4,-.9l4,-.8l4,-.9l4,-.9l4,-.9l4,-1l4,-.9l4,-.9l4,-.8l4,-.7l4,-.5l4,-.4l4,-.2l4,0l4,.1l4,.3l4,.4l4,.6l4,.7l4,.8l4,.9l4,1l4,.9l4,1l4,1l4,1.1l4,1l4,1l4,.9l4,1l4,.8l4,.9l4,.8l4,.7l4,.7l4,.7l4,.7l4,.6l4,.6l4,.6l4,.6l4,.7l4,.6l4,.7l4,.8l4,.7l4,.9l4,.8l4,.8l4,.9l4,.8l4,.9l4,.8l4,.8l4,.8l4,.8l4,.8l4,.8l4,.8l4,.8l4,.8l4,.7l4,.8l4,.8l4,.7l4,.8l4,.7l4,.8l4,.7l4,.7l4,.7l4,.7l4,.7l4,.7l4,.7l4,.7l4,.6l4,.7l4,.7l4,.6l4,.6l4,.6l4,.6l4,.5l4,.5l4,.5l4,.5l4,.4l4,.4l4,.4l4,.4l4,.4l4,.4l4,.3l4,.4l4,.3l4,.4l4,.3l4,.3l4,.3l4,.3l4,.3l4,.3l4,.3l4,.2l4,.3l4,.2l4,.2l4,.2l4,.2l4,.2l4,.2l4,.1l4,.2l4,.1l4,.1l4,.2l4,.1l4,.1l4,.2l4,.1l4,.1l4,.2l4,.1l4,.1l4,.2l4,.1l4,.1l4,.2l4,.1l4,.1l4,.2l4,.1l4,.1l4,.2l4,.1l4,.1l4,.2l4,.1l4,.1l4,.2l4,.1l4,.1l4,.1l4,.2l4,.1l4,.1l4,.2l4,.1l4,.1l1.7,.1 L1945.0,1213.7 L863.3,1213.7 Z"/><clipPath id="c12"><rect x="1099.0" y="1013.7" width="596.7" height="200"/></clipPath><clipPath id="m12"><use href="#f12"/></clipPath></defs>
<use href="#f12" fill="#d1e1ec" clip-path="url(#c12)"/>
<rect x="1393.7" y="1013.7" width="9" height="200" fill="#005b9a" clip-path="url(#m12)"/>
<path d="M863.3,1208.4l4,-.3l4,-.2l4,-.3l4,-.2l4,-.3l4,-.2l4,-.3l4,-.2l4,-.3l4,-.2l4,-.3l4,-.3l4,-.2l4,-.3l4,-.2l4,-.3l4,-.2l4,-.3l4,-.2l4,-.3l4,-.2l4,-.3l4,-.3l4,-.2l4,-.3l4,-.2l4,-.3l4,-.2l4,-.3l4,-.2l4,-.3l4,-.2l4,-.3l4,-.3l4,-.2l4,-.3l4,-.2l4,-.3l4,-.2l4,-.3l4,-.2l4,-.3l4,-.2l4,-.3l4,-.3l4,-.2l4,-.3l4,-.2l4,-.3l4,-.2l4,-.3l4,-.2l4,-.3l4,-.2l4,-.3l4,-.3l4,-.2l4,-.3l4,-.2l4,-.3l4,-.4l4,-.3l4,-.4l4,-.4l4,-.4l4,-.5l4,-.5l4,-.5l4,-.5l4,-.5l4,-.6l4,-.6l4,-.5l4,-.6l4,-.6l4,-.6l4,-.7l4,-.6l4,-.6l4,-.6l4,-.7l4,-.7l4,-.7l4,-.7l4,-.8l4,-.7l4,-.8l4,-.9l4,-.8l4,-.8l4,-.8l4,-.8l4,-.8l4,-.7l4,-.8l4,-.8l4,-.7l4,-.7l4,-.8l4,-.7l4,-.7l4,-.8l4,-.7l4,-.7l4,-.8l4,-.7l4,-.7l4,-.8l4,-.8l4,-.7l4,-.8l4,-.8l4,-.8l4,-.8l4,-.9l4,-.8l4,-.8l4,-.9l4,-.8l4,-.9l4,-.9l4,-.8l4,-.9l4,-.9l4,-.9l4,-1l4,-.9l4,-.9l4,-.8l4,-.7l4,-.5l4,-.4l4,-.2l4,0l4,.1l4,.3l4,.4l4,.6l4,.7l4,.8l4,.9l4,1l4,.9l4,1l4,1l4,1.1l4,1l4,1l4,.9l4,1l4,.8l4,.9l4,.8l4,.7l4,.7l4,.7l4,.7l4,.6l4,.6l4,.6l4,.6l4,.7l4,.6l4,.7l4,.8l4,.7l4,.9l4,.8l4,.8l4,.9l4,.8l4,.9l4,.8l4,.8l4,.8l4,.8l4,.8l4,.8l4,.8l4,.8l4,.8l4,.7l4,.8l4,.8l4,.7l4,.8l4,.7l4,.8l4,.7l4,.7l4,.7l4,.7l4,.7l4,.7l4,.7l4,.7l4,.6l4,.7l4,.7l4,.6l4,.6l4,.6l4,.6l4,.5l4,.5l4,.5l4,.5l4,.4l4,.4l4,.4l4,.4l4,.4l4,.4l4,.3l4,.4l4,.3l4,.4l4,.3l4,.3l4,.3l4,.3l4,.3l4,.3l4,.3l4,.2l4,.3l4,.2l4,.2l4,.2l4,.2l4,.2l4,.2l4,.1l4,.2l4,.1l4,.1l4,.2l4,.1l4,.1l4,.2l4,.1l4,.1l4,.2l4,.1l4,.1l4,.2l4,.1l4,.1l4,.2l4,.1l4,.1l4,.2l4,.1l4,.1l4,.2l4,.1l4,.1l4,.2l4,.1l4,.1l4,.2l4,.1l4,.1l4,.1l4,.2l4,.1l4,.1l4,.2l4,.1l4,.1l1.7,.1" fill="none" stroke="#03386c" stroke-width="4.6" stroke-linejoin="round" stroke-linecap="butt"/>
<rect x="863.3" y="1211.4" width="1081.7" height="4.6" fill="#03386c"/>
<rect x="689" y="1208.9" width="13" height="9.8" fill="#333333"/>
<text x="680" y="1227.5" text-anchor="end" font-family="Liberation Serif" font-weight="bold" font-size="40" fill="#4d4d4d">Musculoskeletal</text>
<defs><path id="f13" d="M872.7,1288.4l4,-.2l4,-.3l4,-.2l4,-.3l4,-.2l4,-.3l4,-.2l4,-.3l4,-.2l4,-.3l4,-.2l4,-.3l4,-.2l4,-.3l4,-.2l4,-.3l4,-.2l4,-.3l4,-.2l4,-.3l4,-.2l4,-.3l4,-.2l4,-.3l4,-.2l4,-.2l4,-.3l4,-.2l4,-.3l4,-.2l4,-.3l4,-.2l4,-.3l4,-.2l4,-.3l4,-.2l4,-.3l4,-.2l4,-.3l4,-.2l4,-.3l4,-.2l4,-.3l4,-.2l4,-.3l4,-.2l4,-.3l4,-.2l4,-.2l4,-.3l4,-.2l4,-.3l4,-.2l4,-.3l4,-.2l4,-.3l4,-.3l4,-.3l4,-.3l4,-.4l4,-.5l4,-.5l4,-.7l4,-.6l4,-.8l4,-.7l4,-.8l4,-.8l4,-.8l4,-.9l4,-.8l4,-.7l4,-.8l4,-.7l4,-.7l4,-.8l4,-.7l4,-.7l4,-.6l4,-.7l4,-.8l4,-.7l4,-.7l4,-.7l4,-.7l4,-.7l4,-.8l4,-.7l4,-.8l4,-.8l4,-.8l4,-.8l4,-.8l4,-.9l4,-.9l4,-1l4,-1l4,-.9l4,-1l4,-1l4,-.9l4,-1l4,-.9l4,-.8l4,-.9l4,-.8l4,-.8l4,-.8l4,-.8l4,-.7l4,-.8l4,-.7l4,-.7l4,-.6l4,-.7l4,-.6l4,-.7l4,-.6l4,-.5l4,-.6l4,-.5l4,-.5l4,-.4l4,-.5l4,-.4l4,-.3l4,-.3l4,-.2l4,-.2l4,0l4,0l4,.1l4,.2l4,.3l4,.4l4,.4l4,.4l4,.5l4,.5l4,.7l4,.6l4,.7l4,.8l4,.8l4,.8l4,.9l4,.9l4,.9l4,.9l4,.9l4,.9l4,.9l4,.9l4,.8l4,.9l4,.8l4,.9l4,.8l4,.8l4,.9l4,.8l4,.8l4,.8l4,.8l4,.9l4,.8l4,.7l4,.8l4,.8l4,.8l4,.8l4,.7l4,.8l4,.7l4,.8l4,.7l4,.8l4,.7l4,.7l4,.7l4,.8l4,.7l4,.7l4,.6l4,.7l4,.7l4,.6l4,.7l4,.6l4,.6l4,.6l4,.5l4,.5l4,.6l4,.4l4,.5l4,.5l4,.4l4,.4l4,.4l4,.4l4,.4l4,.4l4,.4l4,.4l4,.4l4,.4l4,.4l4,.4l4,.4l4,.4l4,.4l4,.4l4,.4l4,.4l4,.4l4,.4l4,.4l4,.3l4,.4l4,.3l4,.4l4,.3l4,.3l4,.4l4,.3l4,.2l4,.3l4,.3l4,.2l4,.2l4,.2l4,.2l4,.2l4,.2l4,.2l4,.2l4,.2l4,.2l4,.2l4,.2l4,.1l4,.2l4,.2l4,.2l4,.2l4,.2l4,.2l4,.2l4,.2l4,.2l4,.2l4,.2l4,.1l4,.2l4,.2l4,.2l4,.2l4,.2l4,.1l2.3,.2 L1915.0,1293.7 L872.7,1293.7 Z"/><clipPath id="c13"><rect x="1105.0" y="1093.7" width="580.7" height="200"/></clipPath><clipPath id="m13"><use href="#f13"/></clipPath></defs>
<use href="#f13" fill="#d1e1ec" clip-path="url(#c13)"/>
<rect x="1389.2" y="1093.7" width="9" height="200" fill="#005b9a" clip-path="url(#m13)"/>
<path d="M872.7,1288.4l4,-.2l4,-.3l4,-.2l4,-.3l4,-.2l4,-.3l4,-.2l4,-.3l4,-.2l4,-.3l4,-.2l4,-.3l4,-.2l4,-.3l4,-.2l4,-.3l4,-.2l4,-.3l4,-.2l4,-.3l4,-.2l4,-.3l4,-.2l4,-.3l4,-.2l4,-.2l4,-.3l4,-.2l4,-.3l4,-.2l4,-.3l4,-.2l4,-.3l4,-.2l4,-.3l4,-.2l4,-.3l4,-.2l4,-.3l4,-.2l4,-.3l4,-.2l4,-.3l4,-.2l4,-.3l4,-.2l4,-.3l4,-.2l4,-.2l4,-.3l4,-.2l4,-.3l4,-.2l4,-.3l4,-.2l4,-.3l4,-.3l4,-.3l4,-.3l4,-.4l4,-.5l4,-.5l4,-.7l4,-.6l4,-.8l4,-.7l4,-.8l4,-.8l4,-.8l4,-.9l4,-.8l4,-.7l4,-.8l4,-.7l4,-.7l4,-.8l4,-.7l4,-.7l4,-.6l4,-.7l4,-.8l4,-.7l4,-.7l4,-.7l4,-.7l4,-.7l4,-.8l4,-.7l4,-.8l4,-.8l4,-.8l4,-.8l4,-.8l4,-.9l4,-.9l4,-1l4,-1l4,-.9l4,-1l4,-1l4,-.9l4,-1l4,-.9l4,-.8l4,-.9l4,-.8l4,-.8l4,-.8l4,-.8l4,-.7l4,-.8l4,-.7l4,-.7l4,-.6l4,-.7l4,-.6l4,-.7l4,-.6l4,-.5l4,-.6l4,-.5l4,-.5l4,-.4l4,-.5l4,-.4l4,-.3l4,-.3l4,-.2l4,-.2l4,0l4,0l4,.1l4,.2l4,.3l4,.4l4,.4l4,.4l4,.5l4,.5l4,.7l4,.6l4,.7l4,.8l4,.8l4,.8l4,.9l4,.9l4,.9l4,.9l4,.9l4,.9l4,.9l4,.9l4,.8l4,.9l4,.8l4,.9l4,.8l4,.8l4,.9l4,.8l4,.8l4,.8l4,.8l4,.9l4,.8l4,.7l4,.8l4,.8l4,.8l4,.8l4,.7l4,.8l4,.7l4,.8l4,.7l4,.8l4,.7l4,.7l4,.7l4,.8l4,.7l4,.7l4,.6l4,.7l4,.7l4,.6l4,.7l4,.6l4,.6l4,.6l4,.5l4,.5l4,.6l4,.4l4,.5l4,.5l4,.4l4,.4l4,.4l4,.4l4,.4l4,.4l4,.4l4,.4l4,.4l4,.4l4,.4l4,.4l4,.4l4,.4l4,.4l4,.4l4,.4l4,.4l4,.4l4,.4l4,.4l4,.3l4,.4l4,.3l4,.4l4,.3l4,.3l4,.4l4,.3l4,.2l4,.3l4,.3l4,.2l4,.2l4,.2l4,.2l4,.2l4,.2l4,.2l4,.2l4,.2l4,.2l4,.2l4,.2l4,.1l4,.2l4,.2l4,.2l4,.2l4,.2l4,.2l4,.2l4,.2l4,.2l4,.2l4,.2l4,.1l4,.2l4,.2l4,.2l4,.2l4,.2l4,.1l2.3,.2" fill="none" stroke="#03386c" stroke-width="4.6" stroke-linejoin="round" stroke-linecap="butt"/>
<rect x="872.7" y="1291.4" width="1042.3" height="4.6" fill="#03386c"/>
<rect x="689" y="1288.9" width="13" height="9.8" fill="#333333"/>
<text x="680" y="1307.5" text-anchor="end" font-family="Liberation Serif" font-weight="bold" font-size="40" fill="#4d4d4d">Genitourinary</text>
<defs><path id="f14" d="M861.7,1368.4l4,-.2l4,-.3l4,-.2l4,-.2l4,-.3l4,-.2l4,-.2l4,-.3l4,-.2l4,-.2l4,-.3l4,-.2l4,-.2l4,-.3l4,-.2l4,-.2l4,-.3l4,-.2l4,-.2l4,-.3l4,-.2l4,-.2l4,-.3l4,-.2l4,-.2l4,-.3l4,-.2l4,-.2l4,-.3l4,-.2l4,-.2l4,-.3l4,-.2l4,-.2l4,-.3l4,-.2l4,-.2l4,-.3l4,-.2l4,-.2l4,-.3l4,-.2l4,-.2l4,-.3l4,-.2l4,-.2l4,-.3l4,-.2l4,-.2l4,-.3l4,-.2l4,-.2l4,-.3l4,-.2l4,-.2l4,-.3l4,-.2l4,-.2l4,-.3l4,-.2l4,-.3l4,-.2l4,-.3l4,-.4l4,-.4l4,-.4l4,-.4l4,-.5l4,-.6l4,-.6l4,-.6l4,-.6l4,-.6l4,-.7l4,-.7l4,-.6l4,-.7l4,-.7l4,-.7l4,-.7l4,-.8l4,-.7l4,-.8l4,-.8l4,-.8l4,-.8l4,-.9l4,-.9l4,-.9l4,-.9l4,-.9l4,-.9l4,-.9l4,-.9l4,-.9l4,-.9l4,-.9l4,-1l4,-.9l4,-1l4,-.9l4,-1l4,-.9l4,-1l4,-.9l4,-.9l4,-.9l4,-.9l4,-.9l4,-.8l4,-.9l4,-.9l4,-.8l4,-.8l4,-.8l4,-.8l4,-.7l4,-.7l4,-.6l4,-.5l4,-.5l4,-.4l4,-.4l4,-.4l4,-.3l4,-.3l4,-.2l4,-.3l4,-.2l4,-.2l4,-.2l4,-.2l4,-.2l4,-.1l4,-.1l4,-.1l4,.1l4,.2l4,.2l4,.4l4,.5l4,.6l4,.6l4,.7l4,.7l4,.7l4,.8l4,.8l4,.8l4,.8l4,.8l4,.8l4,.9l4,.8l4,.8l4,.8l4,.9l4,.8l4,.8l4,.8l4,.8l4,.8l4,.8l4,.8l4,.8l4,.8l4,.8l4,.8l4,.8l4,.8l4,.7l4,.8l4,.7l4,.8l4,.7l4,.7l4,.7l4,.7l4,.7l4,.6l4,.7l4,.6l4,.7l4,.6l4,.7l4,.6l4,.6l4,.7l4,.6l4,.7l4,.6l4,.6l4,.7l4,.6l4,.7l4,.7l4,.7l4,.7l4,.7l4,.6l4,.7l4,.6l4,.6l4,.5l4,.6l4,.4l4,.5l4,.4l4,.4l4,.5l4,.4l4,.4l4,.4l4,.3l4,.4l4,.4l4,.4l4,.3l4,.4l4,.3l4,.4l4,.3l4,.3l4,.3l4,.3l4,.3l4,.3l4,.3l4,.2l4,.3l4,.2l4,.2l4,.3l4,.2l4,.2l4,.2l4,.2l4,.2l4,.1l4,.2l4,.2l4,.2l4,.2l4,.2l4,.2l4,.2l4,.2l4,.2l4,.2l4,.2l4,.1l4,.2l4,.2l4,.2l4,.2l4,.2l4,.2l4,.2l4,.2l4,.2l4,.1l4,.2l4,.2l1.3,.1 L1915.0,1373.7 L861.7,1373.7 Z"/><clipPath id="c14"><rect x="1108.3" y="1173.7" width="578.4" height="200"/></clipPath><clipPath id="m14"><use href="#f14"/></clipPath></defs>
<use href="#f14" fill="#d1e1ec" clip-path="url(#c14)"/>
<rect x="1394.0" y="1173.7" width="9" height="200" fill="#005b9a" clip-path="url(#m14)"/>
<path d="M861.7,1368.4l4,-.2l4,-.3l4,-.2l4,-.2l4,-.3l4,-.2l4,-.2l4,-.3l4,-.2l4,-.2l4,-.3l4,-.2l4,-.2l4,-.3l4,-.2l4,-.2l4,-.3l4,-.2l4,-.2l4,-.3l4,-.2l4,-.2l4,-.3l4,-.2l4,-.2l4,-.3l4,-.2l4,-.2l4,-.3l4,-.2l4,-.2l4,-.3l4,-.2l4,-.2l4,-.3l4,-.2l4,-.2l4,-.3l4,-.2l4,-.2l4,-.3l4,-.2l4,-.2l4,-.3l4,-.2l4,-.2l4,-.3l4,-.2l4,-.2l4,-.3l4,-.2l4,-.2l4,-.3l4,-.2l4,-.2l4,-.3l4,-.2l4,-.2l4,-.3l4,-.2l4,-.3l4,-.2l4,-.3l4,-.4l4,-.4l4,-.4l4,-.4l4,-.5l4,-.6l4,-.6l4,-.6l4,-.6l4,-.6l4,-.7l4,-.7l4,-.6l4,-.7l4,-.7l4,-.7l4,-.7l4,-.8l4,-.7l4,-.8l4,-.8l4,-.8l4,-.8l4,-.9l4,-.9l4,-.9l4,-.9l4,-.9l4,-.9l4,-.9l4,-.9l4,-.9l4,-.9l4,-.9l4,-1l4,-.9l4,-1l4,-.9l4,-1l4,-.9l4,-1l4,-.9l4,-.9l4,-.9l4,-.9l4,-.9l4,-.8l4,-.9l4,-.9l4,-.8l4,-.8l4,-.8l4,-.8l4,-.7l4,-.7l4,-.6l4,-.5l4,-.5l4,-.4l4,-.4l4,-.4l4,-.3l4,-.3l4,-.2l4,-.3l4,-.2l4,-.2l4,-.2l4,-.2l4,-.2l4,-.1l4,-.1l4,-.1l4,.1l4,.2l4,.2l4,.4l4,.5l4,.6l4,.6l4,.7l4,.7l4,.7l4,.8l4,.8l4,.8l4,.8l4,.8l4,.8l4,.9l4,.8l4,.8l4,.8l4,.9l4,.8l4,.8l4,.8l4,.8l4,.8l4,.8l4,.8l4,.8l4,.8l4,.8l4,.8l4,.8l4,.8l4,.7l4,.8l4,.7l4,.8l4,.7l4,.7l4,.7l4,.7l4,.7l4,.6l4,.7l4,.6l4,.7l4,.6l4,.7l4,.6l4,.6l4,.7l4,.6l4,.7l4,.6l4,.6l4,.7l4,.6l4,.7l4,.7l4,.7l4,.7l4,.7l4,.6l4,.7l4,.6l4,.6l4,.5l4,.6l4,.4l4,.5l4,.4l4,.4l4,.5l4,.4l4,.4l4,.4l4,.3l4,.4l4,.4l4,.4l4,.3l4,.4l4,.3l4,.4l4,.3l4,.3l4,.3l4,.3l4,.3l4,.3l4,.3l4,.2l4,.3l4,.2l4,.2l4,.3l4,.2l4,.2l4,.2l4,.2l4,.2l4,.1l4,.2l4,.2l4,.2l4,.2l4,.2l4,.2l4,.2l4,.2l4,.2l4,.2l4,.2l4,.1l4,.2l4,.2l4,.2l4,.2l4,.2l4,.2l4,.2l4,.2l4,.2l4,.1l4,.2l4,.2l1.3,.1" fill="none" stroke="#03386c" stroke-width="4.6" stroke-linejoin="round" stroke-linecap="butt"/>
<rect x="861.7" y="1371.4" width="1053.3" height="4.6" fill="#03386c"/>
<rect x="689" y="1368.9" width="13" height="9.8" fill="#333333"/>
<text x="680" y="1387.5" text-anchor="end" font-family="Liberation Serif" font-weight="bold" font-size="40" fill="#4d4d4d">Pregancy, Childbirth, &amp; Puerperium</text>
<defs><path id="f15" d="M849.3,1448.4l4,-.2l4,-.2l4,-.2l4,-.2l4,-.2l4,-.3l4,-.2l4,-.2l4,-.2l4,-.2l4,-.2l4,-.2l4,-.2l4,-.2l4,-.2l4,-.2l4,-.2l4,-.3l4,-.2l4,-.2l4,-.2l4,-.2l4,-.2l4,-.2l4,-.2l4,-.2l4,-.2l4,-.2l4,-.3l4,-.2l4,-.2l4,-.2l4,-.2l4,-.2l4,-.2l4,-.2l4,-.2l4,-.2l4,-.2l4,-.3l4,-.2l4,-.2l4,-.2l4,-.2l4,-.2l4,-.2l4,-.2l4,-.2l4,-.2l4,-.2l4,-.2l4,-.3l4,-.2l4,-.2l4,-.2l4,-.2l4,-.2l4,-.2l4,-.2l4,-.2l4,-.2l4,-.3l4,-.2l4,-.2l4,-.3l4,-.3l4,-.4l4,-.5l4,-.5l4,-.5l4,-.6l4,-.7l4,-.6l4,-.7l4,-.8l4,-.7l4,-.7l4,-.7l4,-.7l4,-.8l4,-.7l4,-.7l4,-.7l4,-.8l4,-.7l4,-.8l4,-.8l4,-.8l4,-.7l4,-.8l4,-.9l4,-.8l4,-.8l4,-.8l4,-.9l4,-.9l4,-.8l4,-.9l4,-1l4,-.9l4,-1l4,-1.1l4,-1l4,-1.1l4,-1l4,-1.1l4,-1l4,-1l4,-.9l4,-1l4,-.8l4,-.9l4,-.8l4,-.8l4,-.8l4,-.8l4,-.7l4,-.8l4,-.7l4,-.7l4,-.7l4,-.6l4,-.7l4,-.6l4,-.7l4,-.6l4,-.6l4,-.5l4,-.5l4,-.5l4,-.4l4,-.4l4,-.3l4,-.2l4,-.1l4,0l4,.2l4,.3l4,.3l4,.5l4,.6l4,.7l4,.7l4,.8l4,.8l4,.9l4,.8l4,.8l4,.9l4,.9l4,.8l4,.9l4,.9l4,.9l4,.9l4,.9l4,.8l4,.8l4,.9l4,.7l4,.8l4,.7l4,.8l4,.7l4,.7l4,.7l4,.7l4,.7l4,.6l4,.7l4,.7l4,.6l4,.7l4,.7l4,.7l4,.7l4,.6l4,.7l4,.7l4,.8l4,.7l4,.7l4,.7l4,.7l4,.8l4,.7l4,.7l4,.7l4,.7l4,.7l4,.7l4,.7l4,.7l4,.6l4,.7l4,.6l4,.6l4,.6l4,.5l4,.6l4,.6l4,.5l4,.5l4,.5l4,.5l4,.5l4,.5l4,.5l4,.4l4,.4l4,.5l4,.4l4,.4l4,.4l4,.4l4,.4l4,.4l4,.5l4,.4l4,.4l4,.4l4,.4l4,.4l4,.4l4,.3l4,.4l4,.3l4,.4l4,.3l4,.3l4,.3l4,.3l4,.2l4,.2l4,.2l4,.2l4,.2l4,.1l4,.2l4,.1l4,.1l4,.1l4,.1l4,.2l4,.1l4,.1l4,.1l4,.2l4,.1l4,.1l4,.1l4,.1l4,.2l4,.1l4,.1l4,.1l4,.2l4,.1l4,.1l4,.1l4,.1l4,.2l4,.1l4,.1l4,.1l4,.2l4,.1l4,.1l4,.1l4,.1l4,.2l4,.1l4,.1l4,.1l4,.2l4,.1l4,.1 L1957.3,1453.7 L849.3,1453.7 Z"/><clipPath id="c15"><rect x="1106.0" y="1253.7" width="593.3" height="200"/></clipPath><clipPath id="m15"><use href="#f15"/></clipPath></defs>
<use href="#f15" fill="#d1e1ec" clip-path="url(#c15)"/>
<rect x="1390.5" y="1253.7" width="9" height="200" fill="#005b9a" clip-path="url(#m15)"/>
<path d="M849.3,1448.4l4,-.2l4,-.2l4,-.2l4,-.2l4,-.2l4,-.3l4,-.2l4,-.2l4,-.2l4,-.2l4,-.2l4,-.2l4,-.2l4,-.2l4,-.2l4,-.2l4,-.2l4,-.3l4,-.2l4,-.2l4,-.2l4,-.2l4,-.2l4,-.2l4,-.2l4,-.2l4,-.2l4,-.2l4,-.3l4,-.2l4,-.2l4,-.2l4,-.2l4,-.2l4,-.2l4,-.2l4,-.2l4,-.2l4,-.2l4,-.3l4,-.2l4,-.2l4,-.2l4,-.2l4,-.2l4,-.2l4,-.2l4,-.2l4,-.2l4,-.2l4,-.2l4,-.3l4,-.2l4,-.2l4,-.2l4,-.2l4,-.2l4,-.2l4,-.2l4,-.2l4,-.2l4,-.3l4,-.2l4,-.2l4,-.3l4,-.3l4,-.4l4,-.5l4,-.5l4,-.5l4,-.6l4,-.7l4,-.6l4,-.7l4,-.8l4,-.7l4,-.7l4,-.7l4,-.7l4,-.8l4,-.7l4,-.7l4,-.7l4,-.8l4,-.7l4,-.8l4,-.8l4,-.8l4,-.7l4,-.8l4,-.9l4,-.8l4,-.8l4,-.8l4,-.9l4,-.9l4,-.8l4,-.9l4,-1l4,-.9l4,-1l4,-1.1l4,-1l4,-1.1l4,-1l4,-1.1l4,-1l4,-1l4,-.9l4,-1l4,-.8l4,-.9l4,-.8l4,-.8l4,-.8l4,-.8l4,-.7l4,-.8l4,-.7l4,-.7l4,-.7l4,-.6l4,-.7l4,-.6l4,-.7l4,-.6l4,-.6l4,-.5l4,-.5l4,-.5l4,-.4l4,-.4l4,-.3l4,-.2l4,-.1l4,0l4,.2l4,.3l4,.3l4,.5l4,.6l4,.7l4,.7l4,.8l4,.8l4,.9l4,.8l4,.8l4,.9l4,.9l4,.8l4,.9l4,.9l4,.9l4,.9l4,.9l4,.8l4,.8l4,.9l4,.7l4,.8l4,.7l4,.8l4,.7l4,.7l4,.7l4,.7l4,.7l4,.6l4,.7l4,.7l4,.6l4,.7l4,.7l4,.7l4,.7l4,.6l4,.7l4,.7l4,.8l4,.7l4,.7l4,.7l4,.7l4,.8l4,.7l4,.7l4,.7l4,.7l4,.7l4,.7l4,.7l4,.7l4,.6l4,.7l4,.6l4,.6l4,.6l4,.5l4,.6l4,.6l4,.5l4,.5l4,.5l4,.5l4,.5l4,.5l4,.5l4,.4l4,.4l4,.5l4,.4l4,.4l4,.4l4,.4l4,.4l4,.4l4,.5l4,.4l4,.4l4,.4l4,.4l4,.4l4,.4l4,.3l4,.4l4,.3l4,.4l4,.3l4,.3l4,.3l4,.3l4,.2l4,.2l4,.2l4,.2l4,.2l4,.1l4,.2l4,.1l4,.1l4,.1l4,.1l4,.2l4,.1l4,.1l4,.1l4,.2l4,.1l4,.1l4,.1l4,.1l4,.2l4,.1l4,.1l4,.1l4,.2l4,.1l4,.1l4,.1l4,.1l4,.2l4,.1l4,.1l4,.1l4,.2l4,.1l4,.1l4,.1l4,.1l4,.2l4,.1l4,.1l4,.1l4,.2l4,.1l4,.1" fill="none" stroke="#03386c" stroke-width="4.6" stroke-linejoin="round" stroke-linecap="butt"/>
<rect x="849.3" y="1451.4" width="1108.0" height="4.6" fill="#03386c"/>
<rect x="689" y="1448.9" width="13" height="9.8" fill="#333333"/>
<text x="680" y="1467.5" text-anchor="end" font-family="Liberation Serif" font-weight="bold" font-size="40" fill="#4d4d4d">Perinatal Period</text>
<defs><path id="f16" d="M842.7,1528.4l4,-.2l4,-.2l4,-.2l4,-.3l4,-.2l4,-.2l4,-.2l4,-.2l4,-.2l4,-.2l4,-.2l4,-.3l4,-.2l4,-.2l4,-.2l4,-.2l4,-.2l4,-.2l4,-.3l4,-.2l4,-.2l4,-.2l4,-.2l4,-.2l4,-.2l4,-.2l4,-.3l4,-.2l4,-.2l4,-.2l4,-.2l4,-.2l4,-.2l4,-.3l4,-.2l4,-.2l4,-.2l4,-.2l4,-.2l4,-.2l4,-.2l4,-.3l4,-.2l4,-.2l4,-.2l4,-.2l4,-.2l4,-.2l4,-.3l4,-.2l4,-.2l4,-.2l4,-.2l4,-.2l4,-.2l4,-.2l4,-.3l4,-.2l4,-.2l4,-.2l4,-.2l4,-.2l4,-.3l4,-.3l4,-.3l4,-.4l4,-.4l4,-.5l4,-.5l4,-.5l4,-.6l4,-.6l4,-.7l4,-.6l4,-.7l4,-.6l4,-.7l4,-.6l4,-.6l4,-.7l4,-.6l4,-.6l4,-.5l4,-.6l4,-.6l4,-.6l4,-.5l4,-.6l4,-.6l4,-.6l4,-.6l4,-.6l4,-.6l4,-.7l4,-.6l4,-.7l4,-.8l4,-.7l4,-.8l4,-.9l4,-.9l4,-1l4,-1l4,-1.1l4,-1.1l4,-1.1l4,-1.2l4,-1.1l4,-1.1l4,-1.1l4,-1.1l4,-1l4,-1l4,-1l4,-.9l4,-.9l4,-1l4,-.9l4,-.8l4,-.9l4,-.8l4,-.8l4,-.7l4,-.7l4,-.7l4,-.6l4,-.5l4,-.5l4,-.5l4,-.4l4,-.4l4,-.4l4,-.3l4,-.3l4,-.3l4,-.2l4,-.1l4,-.1l4,.1l4,.1l4,.2l4,.3l4,.3l4,.4l4,.5l4,.6l4,.5l4,.7l4,.7l4,.7l4,.8l4,.8l4,.9l4,.8l4,1l4,.9l4,.9l4,.9l4,.9l4,.9l4,.8l4,.8l4,.9l4,.8l4,.7l4,.8l4,.8l4,.8l4,.7l4,.8l4,.7l4,.8l4,.8l4,.8l4,.8l4,.8l4,.8l4,.8l4,.9l4,.9l4,1l4,1l4,1.1l4,1l4,1.1l4,1l4,1l4,.9l4,.7l4,.8l4,.6l4,.6l4,.6l4,.6l4,.6l4,.5l4,.5l4,.5l4,.6l4,.5l4,.4l4,.5l4,.5l4,.4l4,.5l4,.4l4,.5l4,.4l4,.4l4,.4l4,.4l4,.4l4,.4l4,.4l4,.4l4,.4l4,.4l4,.4l4,.4l4,.4l4,.4l4,.4l4,.3l4,.4l4,.3l4,.4l4,.3l4,.4l4,.3l4,.3l4,.3l4,.2l4,.3l4,.2l4,.3l4,.2l4,.2l4,.2l4,.1l4,.2l4,.1l4,.2l4,.1l4,.2l4,.1l4,.2l4,.1l4,.1l4,.2l4,.1l4,.2l4,.1l4,.2l4,.1l4,.2l4,.1l4,.1l4,.2l4,.1l4,.2l4,.1l4,.2l4,.1l4,.2l4,.1l4,.1l4,.2l4,.1l4,.2l4,.1l4,.2l4,.1l2.6,.1 L1933.3,1533.7 L842.7,1533.7 Z"/><clipPath id="c16"><rect x="1094.0" y="1333.7" width="600.3" height="200"/></clipPath><clipPath id="m16"><use href="#f16"/></clipPath></defs>
<use href="#f16" fill="#d1e1ec" clip-path="url(#c16)"/>
<rect x="1392.0" y="1333.7" width="9" height="200" fill="#005b9a" clip-path="url(#m16)"/>
<path d="M842.7,1528.4l4,-.2l4,-.2l4,-.2l4,-.3l4,-.2l4,-.2l4,-.2l4,-.2l4,-.2l4,-.2l4,-.2l4,-.3l4,-.2l4,-.2l4,-.2l4,-.2l4,-.2l4,-.2l4,-.3l4,-.2l4,-.2l4,-.2l4,-.2l4,-.2l4,-.2l4,-.2l4,-.3l4,-.2l4,-.2l4,-.2l4,-.2l4,-.2l4,-.2l4,-.3l4,-.2l4,-.2l4,-.2l4,-.2l4,-.2l4,-.2l4,-.2l4,-.3l4,-.2l4,-.2l4,-.2l4,-.2l4,-.2l4,-.2l4,-.3l4,-.2l4,-.2l4,-.2l4,-.2l4,-.2l4,-.2l4,-.2l4,-.3l4,-.2l4,-.2l4,-.2l4,-.2l4,-.2l4,-.3l4,-.3l4,-.3l4,-.4l4,-.4l4,-.5l4,-.5l4,-.5l4,-.6l4,-.6l4,-.7l4,-.6l4,-.7l4,-.6l4,-.7l4,-.6l4,-.6l4,-.7l4,-.6l4,-.6l4,-.5l4,-.6l4,-.6l4,-.6l4,-.5l4,-.6l4,-.6l4,-.6l4,-.6l4,-.6l4,-.6l4,-.7l4,-.6l4,-.7l4,-.8l4,-.7l4,-.8l4,-.9l4,-.9l4,-1l4,-1l4,-1.1l4,-1.1l4,-1.1l4,-1.2l4,-1.1l4,-1.1l4,-1.1l4,-1.1l4,-1l4,-1l4,-1l4,-.9l4,-.9l4,-1l4,-.9l4,-.8l4,-.9l4,-.8l4,-.8l4,-.7l4,-.7l4,-.7l4,-.6l4,-.5l4,-.5l4,-.5l4,-.4l4,-.4l4,-.4l4,-.3l4,-.3l4,-.3l4,-.2l4,-.1l4,-.1l4,.1l4,.1l4,.2l4,.3l4,.3l4,.4l4,.5l4,.6l4,.5l4,.7l4,.7l4,.7l4,.8l4,.8l4,.9l4,.8l4,1l4,.9l4,.9l4,.9l4,.9l4,.9l4,.8l4,.8l4,.9l4,.8l4,.7l4,.8l4,.8l4,.8l4,.7l4,.8l4,.7l4,.8l4,.8l4,.8l4,.8l4,.8l4,.8l4,.8l4,.9l4,.9l4,1l4,1l4,1.1l4,1l4,1.1l4,1l4,1l4,.9l4,.7l4,.8l4,.6l4,.6l4,.6l4,.6l4,.6l4,.5l4,.5l4,.5l4,.6l4,.5l4,.4l4,.5l4,.5l4,.4l4,.5l4,.4l4,.5l4,.4l4,.4l4,.4l4,.4l4,.4l4,.4l4,.4l4,.4l4,.4l4,.4l4,.4l4,.4l4,.4l4,.4l4,.4l4,.3l4,.4l4,.3l4,.4l4,.3l4,.4l4,.3l4,.3l4,.3l4,.2l4,.3l4,.2l4,.3l4,.2l4,.2l4,.2l4,.1l4,.2l4,.1l4,.2l4,.1l4,.2l4,.1l4,.2l4,.1l4,.1l4,.2l4,.1l4,.2l4,.1l4,.2l4,.1l4,.2l4,.1l4,.1l4,.2l4,.1l4,.2l4,.1l4,.2l4,.1l4,.2l4,.1l4,.1l4,.2l4,.1l4,.2l4,.1l4,.2l4,.1l2.6,.1" fill="none" stroke="#03386c" stroke-width="4.6" stroke-linejoin="round" stroke-linecap="butt"/>
<rect x="842.7" y="1531.4" width="1090.6" height="4.6" fill="#03386c"/>
<rect x="689" y="1528.9" width="13" height="9.8" fill="#333333"/>
<text x="680" y="1547.5" text-anchor="end" font-family="Liberation Serif" font-weight="bold" font-size="40" fill="#4d4d4d">Congential</text>
<defs><path id="f17" d="M871.7,1608.4l4,-.2l4,-.3l4,-.2l4,-.3l4,-.2l4,-.3l4,-.2l4,-.3l4,-.2l4,-.3l4,-.2l4,-.3l4,-.2l4,-.2l4,-.3l4,-.2l4,-.3l4,-.2l4,-.3l4,-.2l4,-.3l4,-.2l4,-.3l4,-.2l4,-.2l4,-.3l4,-.2l4,-.3l4,-.2l4,-.3l4,-.2l4,-.3l4,-.2l4,-.3l4,-.2l4,-.3l4,-.2l4,-.2l4,-.3l4,-.2l4,-.3l4,-.2l4,-.3l4,-.2l4,-.3l4,-.2l4,-.3l4,-.2l4,-.2l4,-.3l4,-.2l4,-.3l4,-.2l4,-.3l4,-.2l4,-.3l4,-.2l4,-.3l4,-.2l4,-.3l4,-.3l4,-.3l4,-.3l4,-.3l4,-.4l4,-.4l4,-.4l4,-.5l4,-.5l4,-.5l4,-.6l4,-.6l4,-.7l4,-.6l4,-.8l4,-.8l4,-.8l4,-.8l4,-.9l4,-.9l4,-1l4,-.9l4,-1l4,-1l4,-1l4,-1l4,-.9l4,-1l4,-1l4,-.9l4,-1l4,-.9l4,-.9l4,-.9l4,-.9l4,-.9l4,-.9l4,-.8l4,-.9l4,-.9l4,-.8l4,-.9l4,-.8l4,-.9l4,-.8l4,-.9l4,-.8l4,-.8l4,-.9l4,-.8l4,-.8l4,-.8l4,-.8l4,-.8l4,-.7l4,-.7l4,-.7l4,-.7l4,-.6l4,-.6l4,-.6l4,-.6l4,-.5l4,-.5l4,-.4l4,-.4l4,-.4l4,-.3l4,-.2l4,-.2l4,0l4,.1l4,.1l4,.3l4,.3l4,.3l4,.5l4,.4l4,.6l4,.6l4,.6l4,.7l4,.8l4,.8l4,.8l4,.9l4,.9l4,.9l4,.9l4,.9l4,.9l4,.9l4,.9l4,.8l4,.9l4,.8l4,.8l4,.8l4,.8l4,.7l4,.8l4,.8l4,.8l4,.7l4,.8l4,.8l4,.8l4,.8l4,.7l4,.8l4,.9l4,.8l4,.8l4,.9l4,.9l4,.9l4,1l4,.9l4,.8l4,.9l4,.7l4,.8l4,.7l4,.6l4,.7l4,.6l4,.6l4,.6l4,.6l4,.6l4,.6l4,.6l4,.5l4,.6l4,.5l4,.6l4,.5l4,.5l4,.5l4,.4l4,.5l4,.5l4,.4l4,.5l4,.4l4,.4l4,.5l4,.4l4,.4l4,.4l4,.5l4,.4l4,.4l4,.4l4,.4l4,.3l4,.4l4,.4l4,.4l4,.3l4,.3l4,.4l4,.3l4,.3l4,.3l4,.2l4,.3l4,.2l4,.3l4,.2l4,.2l4,.2l4,.1l4,.2l4,.2l4,.2l4,.1l4,.2l4,.2l4,.1l4,.2l4,.2l4,.1l4,.2l4,.2l4,.1l4,.2l4,.2l4,.1l4,.2l4,.2l4,.1l4,.2l4,.2l4,.1l4,.2l4,.2l4,.1l4,.2l4,.1l3.3,.2 L1915.0,1613.7 L871.7,1613.7 Z"/><clipPath id="c17"><rect x="1106.0" y="1413.7" width="578.3" height="200"/></clipPath><clipPath id="m17"><use href="#f17"/></clipPath></defs>
<use href="#f17" fill="#d1e1ec" clip-path="url(#c17)"/>
<rect x="1392.0" y="1413.7" width="9" height="200" fill="#005b9a" clip-path="url(#m17)"/>
<path d="M871.7,1608.4l4,-.2l4,-.3l4,-.2l4,-.3l4,-.2l4,-.3l4,-.2l4,-.3l4,-.2l4,-.3l4,-.2l4,-.3l4,-.2l4,-.2l4,-.3l4,-.2l4,-.3l4,-.2l4,-.3l4,-.2l4,-.3l4,-.2l4,-.3l4,-.2l4,-.2l4,-.3l4,-.2l4,-.3l4,-.2l4,-.3l4,-.2l4,-.3l4,-.2l4,-.3l4,-.2l4,-.3l4,-.2l4,-.2l4,-.3l4,-.2l4,-.3l4,-.2l4,-.3l4,-.2l4,-.3l4,-.2l4,-.3l4,-.2l4,-.2l4,-.3l4,-.2l4,-.3l4,-.2l4,-.3l4,-.2l4,-.3l4,-.2l4,-.3l4,-.2l4,-.3l4,-.3l4,-.3l4,-.3l4,-.3l4,-.4l4,-.4l4,-.4l4,-.5l4,-.5l4,-.5l4,-.6l4,-.6l4,-.7l4,-.6l4,-.8l4,-.8l4,-.8l4,-.8l4,-.9l4,-.9l4,-1l4,-.9l4,-1l4,-1l4,-1l4,-1l4,-.9l4,-1l4,-1l4,-.9l4,-1l4,-.9l4,-.9l4,-.9l4,-.9l4,-.9l4,-.9l4,-.8l4,-.9l4,-.9l4,-.8l4,-.9l4,-.8l4,-.9l4,-.8l4,-.9l4,-.8l4,-.8l4,-.9l4,-.8l4,-.8l4,-.8l4,-.8l4,-.8l4,-.7l4,-.7l4,-.7l4,-.7l4,-.6l4,-.6l4,-.6l4,-.6l4,-.5l4,-.5l4,-.4l4,-.4l4,-.4l4,-.3l4,-.2l4,-.2l4,0l4,.1l4,.1l4,.3l4,.3l4,.3l4,.5l4,.4l4,.6l4,.6l4,.6l4,.7l4,.8l4,.8l4,.8l4,.9l4,.9l4,.9l4,.9l4,.9l4,.9l4,.9l4,.9l4,.8l4,.9l4,.8l4,.8l4,.8l4,.8l4,.7l4,.8l4,.8l4,.8l4,.7l4,.8l4,.8l4,.8l4,.8l4,.7l4,.8l4,.9l4,.8l4,.8l4,.9l4,.9l4,.9l4,1l4,.9l4,.8l4,.9l4,.7l4,.8l4,.7l4,.6l4,.7l4,.6l4,.6l4,.6l4,.6l4,.6l4,.6l4,.6l4,.5l4,.6l4,.5l4,.6l4,.5l4,.5l4,.5l4,.4l4,.5l4,.5l4,.4l4,.5l4,.4l4,.4l4,.5l4,.4l4,.4l4,.4l4,.5l4,.4l4,.4l4,.4l4,.4l4,.3l4,.4l4,.4l4,.4l4,.3l4,.3l4,.4l4,.3l4,.3l4,.3l4,.2l4,.3l4,.2l4,.3l4,.2l4,.2l4,.2l4,.1l4,.2l4,.2l4,.2l4,.1l4,.2l4,.2l4,.1l4,.2l4,.2l4,.1l4,.2l4,.2l4,.1l4,.2l4,.2l4,.1l4,.2l4,.2l4,.1l4,.2l4,.2l4,.1l4,.2l4,.2l4,.1l4,.2l4,.1l3.3,.2" fill="none" stroke="#03386c" stroke-width="4.6" stroke-linejoin="round" stroke-linecap="butt"/>
<rect x="871.7" y="1611.4" width="1043.3" height="4.6" fill="#03386c"/>
<rect x="689" y="1608.9" width="13" height="9.8" fill="#333333"/>
<text x="680" y="1627.5" text-anchor="end" font-family="Liberation Serif" font-weight="bold" font-size="40" fill="#4d4d4d">Symptoms, Signs etc.</text>
<defs><path id="f18" d="M875.0,1688.4l4,-.2l4,-.3l4,-.2l4,-.3l4,-.2l4,-.3l4,-.2l4,-.3l4,-.2l4,-.3l4,-.2l4,-.3l4,-.2l4,-.3l4,-.2l4,-.3l4,-.2l4,-.3l4,-.2l4,-.3l4,-.2l4,-.3l4,-.2l4,-.3l4,-.2l4,-.3l4,-.2l4,-.3l4,-.2l4,-.3l4,-.2l4,-.3l4,-.2l4,-.3l4,-.2l4,-.3l4,-.2l4,-.3l4,-.2l4,-.3l4,-.2l4,-.3l4,-.2l4,-.3l4,-.2l4,-.3l4,-.2l4,-.3l4,-.2l4,-.3l4,-.2l4,-.3l4,-.2l4,-.3l4,-.2l4,-.3l4,-.3l4,-.3l4,-.4l4,-.4l4,-.5l4,-.6l4,-.7l4,-.7l4,-.8l4,-.7l4,-.8l4,-.8l4,-.8l4,-.7l4,-.7l4,-.6l4,-.5l4,-.5l4,-.5l4,-.3l4,-.4l4,-.3l4,-.3l4,-.3l4,-.3l4,-.3l4,-.4l4,-.5l4,-.6l4,-.7l4,-.8l4,-.9l4,-1l4,-1.1l4,-1.1l4,-1l4,-1l4,-1l4,-1l4,-1l4,-1l4,-1l4,-.9l4,-1l4,-.9l4,-1l4,-.9l4,-.9l4,-.8l4,-.9l4,-.8l4,-.8l4,-.8l4,-.8l4,-.8l4,-.7l4,-.8l4,-.8l4,-.7l4,-.8l4,-.8l4,-.8l4,-.8l4,-.8l4,-.8l4,-.8l4,-.7l4,-.8l4,-.7l4,-.7l4,-.7l4,-.6l4,-.6l4,-.4l4,-.2l4,0l4,.1l4,.3l4,.5l4,.7l4,.7l4,.9l4,.9l4,.9l4,.9l4,1l4,.9l4,1l4,.9l4,1l4,.9l4,1l4,.9l4,1l4,.9l4,.9l4,.9l4,.8l4,.9l4,.9l4,.8l4,.8l4,.9l4,.8l4,.8l4,.8l4,.8l4,.8l4,.8l4,.8l4,.8l4,.8l4,.8l4,.7l4,.8l4,.8l4,.7l4,.8l4,.7l4,.8l4,.8l4,.7l4,.7l4,.8l4,.7l4,.7l4,.7l4,.7l4,.7l4,.7l4,.7l4,.7l4,.6l4,.7l4,.6l4,.6l4,.6l4,.6l4,.6l4,.5l4,.6l4,.5l4,.5l4,.5l4,.4l4,.5l4,.4l4,.4l4,.4l4,.4l4,.4l4,.5l4,.4l4,.4l4,.4l4,.4l4,.4l4,.3l4,.4l4,.4l4,.4l4,.3l4,.4l4,.3l4,.3l4,.4l4,.3l4,.3l4,.2l4,.3l4,.2l4,.3l4,.2l4,.2l4,.1l4,.2l4,.2l4,.1l4,.2l4,.1l4,.2l4,.2l4,.1l4,.2l4,.1l4,.2l4,.1l4,.2l4,.1l4,.2l4,.2l4,.1l4,.2l4,.1l4,.2l4,.1l4,.2l4,.1l4,.2l4,.2l4,.1l4,.2l4,.1l4,.2l4,.1l4,.1l.3,.1 L1923.3,1693.7 L875.0,1693.7 Z"/><clipPath id="c18"><rect x="1105.7" y="1493.7" width="582.0" height="200"/></clipPath><clipPath id="m18"><use href="#f18"/></clipPath></defs>
<use href="#f18" fill="#d1e1ec" clip-path="url(#c18)"/>
<rect x="1395.2" y="1493.7" width="9" height="200" fill="#005b9a" clip-path="url(#m18)"/>
<path d="M875.0,1688.4l4,-.2l4,-.3l4,-.2l4,-.3l4,-.2l4,-.3l4,-.2l4,-.3l4,-.2l4,-.3l4,-.2l4,-.3l4,-.2l4,-.3l4,-.2l4,-.3l4,-.2l4,-.3l4,-.2l4,-.3l4,-.2l4,-.3l4,-.2l4,-.3l4,-.2l4,-.3l4,-.2l4,-.3l4,-.2l4,-.3l4,-.2l4,-.3l4,-.2l4,-.3l4,-.2l4,-.3l4,-.2l4,-.3l4,-.2l4,-.3l4,-.2l4,-.3l4,-.2l4,-.3l4,-.2l4,-.3l4,-.2l4,-.3l4,-.2l4,-.3l4,-.2l4,-.3l4,-.2l4,-.3l4,-.2l4,-.3l4,-.3l4,-.3l4,-.4l4,-.4l4,-.5l4,-.6l4,-.7l4,-.7l4,-.8l4,-.7l4,-.8l4,-.8l4,-.8l4,-.7l4,-.7l4,-.6l4,-.5l4,-.5l4,-.5l4,-.3l4,-.4l4,-.3l4,-.3l4,-.3l4,-.3l4,-.3l4,-.4l4,-.5l4,-.6l4,-.7l4,-.8l4,-.9l4,-1l4,-1.1l4,-1.1l4,-1l4,-1l4,-1l4,-1l4,-1l4,-1l4,-1l4,-.9l4,-1l4,-.9l4,-1l4,-.9l4,-.9l4,-.8l4,-.9l4,-.8l4,-.8l4,-.8l4,-.8l4,-.8l4,-.7l4,-.8l4,-.8l4,-.7l4,-.8l4,-.8l4,-.8l4,-.8l4,-.8l4,-.8l4,-.8l4,-.7l4,-.8l4,-.7l4,-.7l4,-.7l4,-.6l4,-.6l4,-.4l4,-.2l4,0l4,.1l4,.3l4,.5l4,.7l4,.7l4,.9l4,.9l4,.9l4,.9l4,1l4,.9l4,1l4,.9l4,1l4,.9l4,1l4,.9l4,1l4,.9l4,.9l4,.9l4,.8l4,.9l4,.9l4,.8l4,.8l4,.9l4,.8l4,.8l4,.8l4,.8l4,.8l4,.8l4,.8l4,.8l4,.8l4,.8l4,.7l4,.8l4,.8l4,.7l4,.8l4,.7l4,.8l4,.8l4,.7l4,.7l4,.8l4,.7l4,.7l4,.7l4,.7l4,.7l4,.7l4,.7l4,.7l4,.6l4,.7l4,.6l4,.6l4,.6l4,.6l4,.6l4,.5l4,.6l4,.5l4,.5l4,.5l4,.4l4,.5l4,.4l4,.4l4,.4l4,.4l4,.4l4,.5l4,.4l4,.4l4,.4l4,.4l4,.4l4,.3l4,.4l4,.4l4,.4l4,.3l4,.4l4,.3l4,.3l4,.4l4,.3l4,.3l4,.2l4,.3l4,.2l4,.3l4,.2l4,.2l4,.1l4,.2l4,.2l4,.1l4,.2l4,.1l4,.2l4,.2l4,.1l4,.2l4,.1l4,.2l4,.1l4,.2l4,.1l4,.2l4,.2l4,.1l4,.2l4,.1l4,.2l4,.1l4,.2l4,.1l4,.2l4,.2l4,.1l4,.2l4,.1l4,.2l4,.1l4,.1l.3,.1" fill="none" stroke="#03386c" stroke-width="4.6" stroke-linejoin="round" stroke-linecap="butt"/>
<rect x="875.0" y="1691.4" width="1048.3" height="4.6" fill="#03386c"/>
<rect x="689" y="1688.9" width="13" height="9.8" fill="#333333"/>
<text x="680" y="1707.5" text-anchor="end" font-family="Liberation Serif" font-weight="bold" font-size="40" fill="#4d4d4d">Injury etc.</text>
<defs><path id="f19" d="M851.7,1768.4l4,-.2l4,-.2l4,-.3l4,-.2l4,-.2l4,-.2l4,-.3l4,-.2l4,-.2l4,-.2l4,-.2l4,-.3l4,-.2l4,-.2l4,-.2l4,-.3l4,-.2l4,-.2l4,-.2l4,-.2l4,-.3l4,-.2l4,-.2l4,-.2l4,-.3l4,-.2l4,-.2l4,-.2l4,-.2l4,-.3l4,-.2l4,-.2l4,-.2l4,-.3l4,-.2l4,-.2l4,-.2l4,-.3l4,-.2l4,-.2l4,-.2l4,-.2l4,-.3l4,-.2l4,-.2l4,-.2l4,-.3l4,-.2l4,-.2l4,-.2l4,-.2l4,-.3l4,-.2l4,-.2l4,-.2l4,-.3l4,-.2l4,-.2l4,-.2l4,-.3l4,-.3l4,-.3l4,-.3l4,-.4l4,-.5l4,-.4l4,-.6l4,-.5l4,-.6l4,-.6l4,-.6l4,-.6l4,-.7l4,-.6l4,-.7l4,-.6l4,-.6l4,-.6l4,-.6l4,-.6l4,-.6l4,-.6l4,-.5l4,-.6l4,-.6l4,-.5l4,-.6l4,-.6l4,-.6l4,-.6l4,-.7l4,-.6l4,-.7l4,-.7l4,-.7l4,-.8l4,-.8l4,-.9l4,-.9l4,-1l4,-1.1l4,-1.1l4,-1.1l4,-1.1l4,-1.2l4,-1.1l4,-1.1l4,-1.1l4,-1l4,-1.1l4,-.9l4,-1l4,-1l4,-.9l4,-1l4,-.9l4,-.8l4,-.9l4,-.8l4,-.7l4,-.7l4,-.6l4,-.6l4,-.5l4,-.4l4,-.4l4,-.3l4,-.3l4,-.2l4,-.2l4,-.2l4,-.2l4,-.1l4,-.1l4,0l4,0l4,0l4,0l4,-.1l4,-.1l4,-.2l4,-.1l4,-.1l4,0l4,.2l4,.3l4,.4l4,.6l4,.7l4,.8l4,1l4,1.1l4,1.3l4,1.3l4,1.3l4,1.4l4,1.4l4,1.4l4,1.3l4,1.3l4,1.2l4,1.2l4,1.1l4,1.1l4,1.1l4,1l4,.9l4,.8l4,.7l4,.7l4,.7l4,.6l4,.5l4,.6l4,.5l4,.6l4,.6l4,.6l4,.7l4,.7l4,.6l4,.7l4,.7l4,.6l4,.7l4,.6l4,.6l4,.6l4,.6l4,.6l4,.6l4,.6l4,.6l4,.5l4,.6l4,.6l4,.6l4,.5l4,.6l4,.5l4,.6l4,.5l4,.5l4,.6l4,.5l4,.4l4,.5l4,.5l4,.5l4,.4l4,.4l4,.5l4,.4l4,.4l4,.5l4,.4l4,.4l4,.4l4,.5l4,.4l4,.4l4,.4l4,.3l4,.4l4,.4l4,.3l4,.3l4,.4l4,.3l4,.3l4,.2l4,.3l4,.2l4,.2l4,.2l4,.2l4,.2l4,.1l4,.2l4,.1l4,.1l4,.2l4,.1l4,.2l4,.1l4,.1l4,.2l4,.1l4,.2l4,.1l4,.1l4,.2l4,.1l4,.1l4,.2l4,.1l4,.2l4,.1l4,.1l4,.2l4,.1l4,.2l4,.1l4,.1l4,.2l4,.1l4,.2l4,.1l4,.1l4,.2l4,.1l2.6,.1 L1938.3,1773.7 L851.7,1773.7 Z"/><clipPath id="c19"><rect x="1092.7" y="1573.7" width="598.0" height="200"/></clipPath><clipPath id="m19"><use href="#f19"/></clipPath></defs>
<use href="#f19" fill="#d1e1ec" clip-path="url(#c19)"/>
<rect x="1392.8" y="1573.7" width="9" height="200" fill="#005b9a" clip-path="url(#m19)"/>
<path d="M851.7,1768.4l4,-.2l4,-.2l4,-.3l4,-.2l4,-.2l4,-.2l4,-.3l4,-.2l4,-.2l4,-.2l4,-.2l4,-.3l4,-.2l4,-.2l4,-.2l4,-.3l4,-.2l4,-.2l4,-.2l4,-.2l4,-.3l4,-.2l4,-.2l4,-.2l4,-.3l4,-.2l4,-.2l4,-.2l4,-.2l4,-.3l4,-.2l4,-.2l4,-.2l4,-.3l4,-.2l4,-.2l4,-.2l4,-.3l4,-.2l4,-.2l4,-.2l4,-.2l4,-.3l4,-.2l4,-.2l4,-.2l4,-.3l4,-.2l4,-.2l4,-.2l4,-.2l4,-.3l4,-.2l4,-.2l4,-.2l4,-.3l4,-.2l4,-.2l4,-.2l4,-.3l4,-.3l4,-.3l4,-.3l4,-.4l4,-.5l4,-.4l4,-.6l4,-.5l4,-.6l4,-.6l4,-.6l4,-.6l4,-.7l4,-.6l4,-.7l4,-.6l4,-.6l4,-.6l4,-.6l4,-.6l4,-.6l4,-.6l4,-.5l4,-.6l4,-.6l4,-.5l4,-.6l4,-.6l4,-.6l4,-.6l4,-.7l4,-.6l4,-.7l4,-.7l4,-.7l4,-.8l4,-.8l4,-.9l4,-.9l4,-1l4,-1.1l4,-1.1l4,-1.1l4,-1.1l4,-1.2l4,-1.1l4,-1.1l4,-1.1l4,-1l4,-1.1l4,-.9l4,-1l4,-1l4,-.9l4,-1l4,-.9l4,-.8l4,-.9l4,-.8l4,-.7l4,-.7l4,-.6l4,-.6l4,-.5l4,-.4l4,-.4l4,-.3l4,-.3l4,-.2l4,-.2l4,-.2l4,-.2l4,-.1l4,-.1l4,0l4,0l4,0l4,0l4,-.1l4,-.1l4,-.2l4,-.1l4,-.1l4,0l4,.2l4,.3l4,.4l4,.6l4,.7l4,.8l4,1l4,1.1l4,1.3l4,1.3l4,1.3l4,1.4l4,1.4l4,1.4l4,1.3l4,1.3l4,1.2l4,1.2l4,1.1l4,1.1l4,1.1l4,1l4,.9l4,.8l4,.7l4,.7l4,.7l4,.6l4,.5l4,.6l4,.5l4,.6l4,.6l4,.6l4,.7l4,.7l4,.6l4,.7l4,.7l4,.6l4,.7l4,.6l4,.6l4,.6l4,.6l4,.6l4,.6l4,.6l4,.6l4,.5l4,.6l4,.6l4,.6l4,.5l4,.6l4,.5l4,.6l4,.5l4,.5l4,.6l4,.5l4,.4l4,.5l4,.5l4,.5l4,.4l4,.4l4,.5l4,.4l4,.4l4,.5l4,.4l4,.4l4,.4l4,.5l4,.4l4,.4l4,.4l4,.3l4,.4l4,.4l4,.3l4,.3l4,.4l4,.3l4,.3l4,.2l4,.3l4,.2l4,.2l4,.2l4,.2l4,.2l4,.1l4,.2l4,.1l4,.1l4,.2l4,.1l4,.2l4,.1l4,.1l4,.2l4,.1l4,.2l4,.1l4,.1l4,.2l4,.1l4,.1l4,.2l4,.1l4,.2l4,.1l4,.1l4,.2l4,.1l4,.2l4,.1l4,.1l4,.2l4,.1l4,.2l4,.1l4,.1l4,.2l4,.1l2.6,.1" fill="none" stroke="#03386c" stroke-width="4.6" stroke-linejoin="round" stroke-linecap="butt"/>
<rect x="851.7" y="1771.4" width="1086.6" height="4.6" fill="#03386c"/>
<rect x="689" y="1768.9" width="13" height="9.8" fill="#333333"/>
<text x="680" y="1787.5" text-anchor="end" font-family="Liberation Serif" font-weight="bold" font-size="40" fill="#4d4d4d">External Causes</text>
<defs><path id="f20" d="M853.3,1848.4l4,-.2l4,-.3l4,-.2l4,-.3l4,-.2l4,-.3l4,-.2l4,-.2l4,-.3l4,-.2l4,-.3l4,-.2l4,-.3l4,-.2l4,-.2l4,-.3l4,-.2l4,-.3l4,-.2l4,-.3l4,-.2l4,-.3l4,-.2l4,-.2l4,-.3l4,-.2l4,-.3l4,-.2l4,-.3l4,-.2l4,-.2l4,-.3l4,-.2l4,-.3l4,-.2l4,-.3l4,-.2l4,-.2l4,-.3l4,-.2l4,-.3l4,-.2l4,-.3l4,-.2l4,-.2l4,-.3l4,-.2l4,-.3l4,-.2l4,-.3l4,-.2l4,-.2l4,-.3l4,-.2l4,-.3l4,-.2l4,-.3l4,-.2l4,-.2l4,-.3l4,-.2l4,-.3l4,-.3l4,-.2l4,-.3l4,-.3l4,-.4l4,-.3l4,-.4l4,-.4l4,-.4l4,-.4l4,-.5l4,-.4l4,-.5l4,-.5l4,-.6l4,-.5l4,-.6l4,-.6l4,-.7l4,-.6l4,-.7l4,-.7l4,-.8l4,-.7l4,-.8l4,-.8l4,-.7l4,-.8l4,-.8l4,-.8l4,-.8l4,-.8l4,-.9l4,-.8l4,-.8l4,-.8l4,-.8l4,-.9l4,-.8l4,-.9l4,-.9l4,-.9l4,-1l4,-.9l4,-1l4,-1.1l4,-1l4,-1.2l4,-1.1l4,-1.1l4,-1.2l4,-1.2l4,-1.1l4,-1.2l4,-1.1l4,-1l4,-1l4,-1l4,-.8l4,-.8l4,-.7l4,-.6l4,-.5l4,-.4l4,-.4l4,-.3l4,-.3l4,-.2l4,-.3l4,-.2l4,-.2l4,-.2l4,-.2l4,-.2l4,-.1l4,0l4,0l4,0l4,.1l4,.2l4,.1l4,.3l4,.3l4,.3l4,.5l4,.6l4,.8l4,.8l4,1l4,1.1l4,1.1l4,1.2l4,1.2l4,1.1l4,1.2l4,1.1l4,1l4,1.1l4,1.1l4,1l4,1.1l4,1l4,1l4,1l4,1l4,.9l4,1l4,.9l4,.9l4,.8l4,.9l4,.8l4,.8l4,.8l4,.8l4,.8l4,.8l4,.7l4,.8l4,.7l4,.8l4,.7l4,.7l4,.7l4,.7l4,.7l4,.7l4,.6l4,.7l4,.6l4,.7l4,.6l4,.6l4,.6l4,.6l4,.6l4,.6l4,.6l4,.6l4,.5l4,.6l4,.5l4,.5l4,.5l4,.5l4,.4l4,.5l4,.4l4,.4l4,.4l4,.5l4,.4l4,.4l4,.4l4,.4l4,.4l4,.4l4,.4l4,.3l4,.4l4,.4l4,.3l4,.4l4,.3l4,.3l4,.3l4,.3l4,.3l4,.2l4,.3l4,.2l4,.2l4,.2l4,.2l4,.1l4,.2l4,.2l4,.1l4,.2l4,.1l4,.2l4,.1l4,.2l4,.1l4,.2l4,.1l4,.2l4,.1l4,.2l4,.1l4,.2l4,.1l4,.2l4,.1l4,.2l4,.1l4,.2l4,.1l4,.2l4,.1l4,.2l4,.1l4,.2l4,.1l4,.2l4,.1l1.4,.1 L1926.7,1853.7 L853.3,1853.7 Z"/><clipPath id="c20"><rect x="1100.0" y="1653.7" width="587.7" height="200"/></clipPath><clipPath id="m20"><use href="#f20"/></clipPath></defs>
<use href="#f20" fill="#d1e1ec" clip-path="url(#c20)"/>
<rect x="1396.3" y="1653.7" width="9" height="200" fill="#005b9a" clip-path="url(#m20)"/>
<path d="M853.3,1848.4l4,-.2l4,-.3l4,-.2l4,-.3l4,-.2l4,-.3l4,-.2l4,-.2l4,-.3l4,-.2l4,-.3l4,-.2l4,-.3l4,-.2l4,-.2l4,-.3l4,-.2l4,-.3l4,-.2l4,-.3l4,-.2l4,-.3l4,-.2l4,-.2l4,-.3l4,-.2l4,-.3l4,-.2l4,-.3l4,-.2l4,-.2l4,-.3l4,-.2l4,-.3l4,-.2l4,-.3l4,-.2l4,-.2l4,-.3l4,-.2l4,-.3l4,-.2l4,-.3l4,-.2l4,-.2l4,-.3l4,-.2l4,-.3l4,-.2l4,-.3l4,-.2l4,-.2l4,-.3l4,-.2l4,-.3l4,-.2l4,-.3l4,-.2l4,-.2l4,-.3l4,-.2l4,-.3l4,-.3l4,-.2l4,-.3l4,-.3l4,-.4l4,-.3l4,-.4l4,-.4l4,-.4l4,-.4l4,-.5l4,-.4l4,-.5l4,-.5l4,-.6l4,-.5l4,-.6l4,-.6l4,-.7l4,-.6l4,-.7l4,-.7l4,-.8l4,-.7l4,-.8l4,-.8l4,-.7l4,-.8l4,-.8l4,-.8l4,-.8l4,-.8l4,-.9l4,-.8l4,-.8l4,-.8l4,-.8l4,-.9l4,-.8l4,-.9l4,-.9l4,-.9l4,-1l4,-.9l4,-1l4,-1.1l4,-1l4,-1.2l4,-1.1l4,-1.1l4,-1.2l4,-1.2l4,-1.1l4,-1.2l4,-1.1l4,-1l4,-1l4,-1l4,-.8l4,-.8l4,-.7l4,-.6l4,-.5l4,-.4l4,-.4l4,-.3l4,-.3l4,-.2l4,-.3l4,-.2l4,-.2l4,-.2l4,-.2l4,-.2l4,-.1l4,0l4,0l4,0l4,.1l4,.2l4,.1l4,.3l4,.3l4,.3l4,.5l4,.6l4,.8l4,.8l4,1l4,1.1l4,1.1l4,1.2l4,1.2l4,1.1l4,1.2l4,1.1l4,1l4,1.1l4,1.1l4,1l4,1.1l4,1l4,1l4,1l4,1l4,.9l4,1l4,.9l4,.9l4,.8l4,.9l4,.8l4,.8l4,.8l4,.8l4,.8l4,.8l4,.7l4,.8l4,.7l4,.8l4,.7l4,.7l4,.7l4,.7l4,.7l4,.7l4,.6l4,.7l4,.6l4,.7l4,.6l4,.6l4,.6l4,.6l4,.6l4,.6l4,.6l4,.6l4,.5l4,.6l4,.5l4,.5l4,.5l4,.5l4,.4l4,.5l4,.4l4,.4l4,.4l4,.5l4,.4l4,.4l4,.4l4,.4l4,.4l4,.4l4,.4l4,.3l4,.4l4,.4l4,.3l4,.4l4,.3l4,.3l4,.3l4,.3l4,.3l4,.2l4,.3l4,.2l4,.2l4,.2l4,.2l4,.1l4,.2l4,.2l4,.1l4,.2l4,.1l4,.2l4,.1l4,.2l4,.1l4,.2l4,.1l4,.2l4,.1l4,.2l4,.1l4,.2l4,.1l4,.2l4,.1l4,.2l4,.1l4,.2l4,.1l4,.2l4,.1l4,.2l4,.1l4,.2l4,.1l4,.2l4,.1l1.4,.1" fill="none" stroke="#03386c" stroke-width="4.6" stroke-linejoin="round" stroke-linecap="butt"/>
<rect x="853.3" y="1851.4" width="1073.4" height="4.6" fill="#03386c"/>
<rect x="689" y="1848.9" width="13" height="9.8" fill="#333333"/>
<text x="680" y="1867.5" text-anchor="end" font-family="Liberation Serif" font-weight="bold" font-size="40" fill="#4d4d4d">Contact with Healthcare</text>
<defs><path id="f21" d="M871.7,1928.4l4,-.2l4,-.3l4,-.2l4,-.3l4,-.2l4,-.2l4,-.3l4,-.2l4,-.3l4,-.2l4,-.2l4,-.3l4,-.2l4,-.2l4,-.3l4,-.2l4,-.3l4,-.2l4,-.2l4,-.3l4,-.2l4,-.3l4,-.2l4,-.2l4,-.3l4,-.2l4,-.3l4,-.2l4,-.2l4,-.3l4,-.2l4,-.2l4,-.3l4,-.2l4,-.3l4,-.2l4,-.2l4,-.3l4,-.2l4,-.3l4,-.2l4,-.2l4,-.3l4,-.2l4,-.3l4,-.2l4,-.2l4,-.3l4,-.2l4,-.2l4,-.3l4,-.2l4,-.3l4,-.2l4,-.3l4,-.2l4,-.3l4,-.4l4,-.4l4,-.5l4,-.5l4,-.5l4,-.7l4,-.6l4,-.7l4,-.7l4,-.7l4,-.7l4,-.8l4,-.7l4,-.8l4,-.7l4,-.8l4,-.7l4,-.7l4,-.7l4,-.8l4,-.7l4,-.8l4,-.7l4,-.8l4,-.8l4,-.8l4,-.8l4,-.8l4,-.8l4,-.8l4,-.8l4,-.8l4,-.8l4,-.8l4,-.7l4,-.8l4,-.8l4,-.8l4,-.8l4,-.8l4,-.8l4,-.9l4,-.8l4,-.8l4,-.7l4,-.8l4,-.8l4,-.8l4,-.8l4,-.7l4,-.8l4,-.8l4,-.8l4,-.7l4,-.8l4,-.7l4,-.7l4,-.7l4,-.6l4,-.6l4,-.6l4,-.5l4,-.5l4,-.4l4,-.5l4,-.4l4,-.3l4,-.3l4,-.3l4,-.3l4,-.2l4,-.1l4,-.1l4,0l4,0l4,.1l4,0l4,.2l4,.1l4,.2l4,.2l4,.3l4,.4l4,.5l4,.6l4,.7l4,.7l4,.8l4,.8l4,.8l4,.9l4,.9l4,.9l4,.9l4,.8l4,.9l4,.8l4,.9l4,.8l4,.8l4,.8l4,.8l4,.8l4,.8l4,.8l4,.8l4,.8l4,.8l4,.8l4,.8l4,.8l4,.7l4,.8l4,.7l4,.7l4,.7l4,.7l4,.7l4,.7l4,.7l4,.6l4,.7l4,.6l4,.7l4,.6l4,.7l4,.6l4,.6l4,.6l4,.7l4,.6l4,.6l4,.7l4,.6l4,.6l4,.7l4,.7l4,.6l4,.7l4,.6l4,.7l4,.6l4,.6l4,.6l4,.6l4,.5l4,.5l4,.5l4,.5l4,.4l4,.5l4,.4l4,.4l4,.5l4,.4l4,.4l4,.4l4,.4l4,.4l4,.4l4,.4l4,.4l4,.4l4,.3l4,.4l4,.3l4,.3l4,.3l4,.3l4,.2l4,.3l4,.2l4,.2l4,.2l4,.2l4,.1l4,.2l4,.1l4,.2l4,.2l4,.1l4,.2l4,.1l4,.2l4,.1l4,.2l4,.1l4,.2l4,.1l4,.2l4,.1l4,.2l4,.1l4,.2l4,.1l4,.2l4,.1l4,.2l4,.1l4,.2l4,.2l4,.1l4,.2l4,.1l4,.1l4,.2l2.3,.1 L1926.0,1933.7 L871.7,1933.7 Z"/><clipPath id="c21"><rect x="1096.0" y="1733.7" width="596.3" height="200"/></clipPath><clipPath id="m21"><use href="#f21"/></clipPath></defs>
<use href="#f21" fill="#d1e1ec" clip-path="url(#c21)"/>
<rect x="1390.7" y="1733.7" width="9" height="200" fill="#005b9a" clip-path="url(#m21)"/>
<path d="M871.7,1928.4l4,-.2l4,-.3l4,-.2l4,-.3l4,-.2l4,-.2l4,-.3l4,-.2l4,-.3l4,-.2l4,-.2l4,-.3l4,-.2l4,-.2l4,-.3l4,-.2l4,-.3l4,-.2l4,-.2l4,-.3l4,-.2l4,-.3l4,-.2l4,-.2l4,-.3l4,-.2l4,-.3l4,-.2l4,-.2l4,-.3l4,-.2l4,-.2l4,-.3l4,-.2l4,-.3l4,-.2l4,-.2l4,-.3l4,-.2l4,-.3l4,-.2l4,-.2l4,-.3l4,-.2l4,-.3l4,-.2l4,-.2l4,-.3l4,-.2l4,-.2l4,-.3l4,-.2l4,-.3l4,-.2l4,-.3l4,-.2l4,-.3l4,-.4l4,-.4l4,-.5l4,-.5l4,-.5l4,-.7l4,-.6l4,-.7l4,-.7l4,-.7l4,-.7l4,-.8l4,-.7l4,-.8l4,-.7l4,-.8l4,-.7l4,-.7l4,-.7l4,-.8l4,-.7l4,-.8l4,-.7l4,-.8l4,-.8l4,-.8l4,-.8l4,-.8l4,-.8l4,-.8l4,-.8l4,-.8l4,-.8l4,-.8l4,-.7l4,-.8l4,-.8l4,-.8l4,-.8l4,-.8l4,-.8l4,-.9l4,-.8l4,-.8l4,-.7l4,-.8l4,-.8l4,-.8l4,-.8l4,-.7l4,-.8l4,-.8l4,-.8l4,-.7l4,-.8l4,-.7l4,-.7l4,-.7l4,-.6l4,-.6l4,-.6l4,-.5l4,-.5l4,-.4l4,-.5l4,-.4l4,-.3l4,-.3l4,-.3l4,-.3l4,-.2l4,-.1l4,-.1l4,0l4,0l4,.1l4,0l4,.2l4,.1l4,.2l4,.2l4,.3l4,.4l4,.5l4,.6l4,.7l4,.7l4,.8l4,.8l4,.8l4,.9l4,.9l4,.9l4,.9l4,.8l4,.9l4,.8l4,.9l4,.8l4,.8l4,.8l4,.8l4,.8l4,.8l4,.8l4,.8l4,.8l4,.8l4,.8l4,.8l4,.8l4,.7l4,.8l4,.7l4,.7l4,.7l4,.7l4,.7l4,.7l4,.7l4,.6l4,.7l4,.6l4,.7l4,.6l4,.7l4,.6l4,.6l4,.6l4,.7l4,.6l4,.6l4,.7l4,.6l4,.6l4,.7l4,.7l4,.6l4,.7l4,.6l4,.7l4,.6l4,.6l4,.6l4,.6l4,.5l4,.5l4,.5l4,.5l4,.4l4,.5l4,.4l4,.4l4,.5l4,.4l4,.4l4,.4l4,.4l4,.4l4,.4l4,.4l4,.4l4,.4l4,.3l4,.4l4,.3l4,.3l4,.3l4,.3l4,.2l4,.3l4,.2l4,.2l4,.2l4,.2l4,.1l4,.2l4,.1l4,.2l4,.2l4,.1l4,.2l4,.1l4,.2l4,.1l4,.2l4,.1l4,.2l4,.1l4,.2l4,.1l4,.2l4,.1l4,.2l4,.1l4,.2l4,.1l4,.2l4,.1l4,.2l4,.2l4,.1l4,.2l4,.1l4,.1l4,.2l2.3,.1" fill="none" stroke="#03386c" stroke-width="4.6" stroke-linejoin="round" stroke-linecap="butt"/>
<rect x="871.7" y="1931.4" width="1054.3" height="4.6" fill="#03386c"/>
<rect x="689" y="1928.9" width="13" height="9.8" fill="#333333"/>
<text x="680" y="1947.5" text-anchor="end" font-family="Liberation Serif" font-weight="bold" font-size="40" fill="#4d4d4d">Special Purposes</text>
<rect x="739.4" y="2018" width="4" height="13" fill="#333333"/>
<text transform="translate(741.4,2067) scale(1.01,1.077)" text-anchor="middle" font-family="Liberation Serif" font-size="40" fill="#4d4d4d">-0.6</text>
<rect x="1069.1" y="2018" width="4" height="13" fill="#333333"/>
<text transform="translate(1071.1,2067) scale(1.01,1.077)" text-anchor="middle" font-family="Liberation Serif" font-size="40" fill="#4d4d4d">-0.3</text>
<rect x="1398.7" y="2018" width="4" height="13" fill="#333333"/>
<text transform="translate(1400.7,2067) scale(1.01,1.077)" text-anchor="middle" font-family="Liberation Serif" font-size="40" fill="#4d4d4d">0.0</text>
<rect x="1728.3" y="2018" width="4" height="13" fill="#333333"/>
<text transform="translate(1730.3,2067) scale(1.01,1.077)" text-anchor="middle" font-family="Liberation Serif" font-size="40" fill="#4d4d4d">0.3</text>
<rect x="2058.0" y="2018" width="4" height="13" fill="#333333"/>
<text transform="translate(2060.0,2067) scale(1.01,1.077)" text-anchor="middle" font-family="Liberation Serif" font-size="40" fill="#4d4d4d">0.6</text>
</svg>
</body></html>
